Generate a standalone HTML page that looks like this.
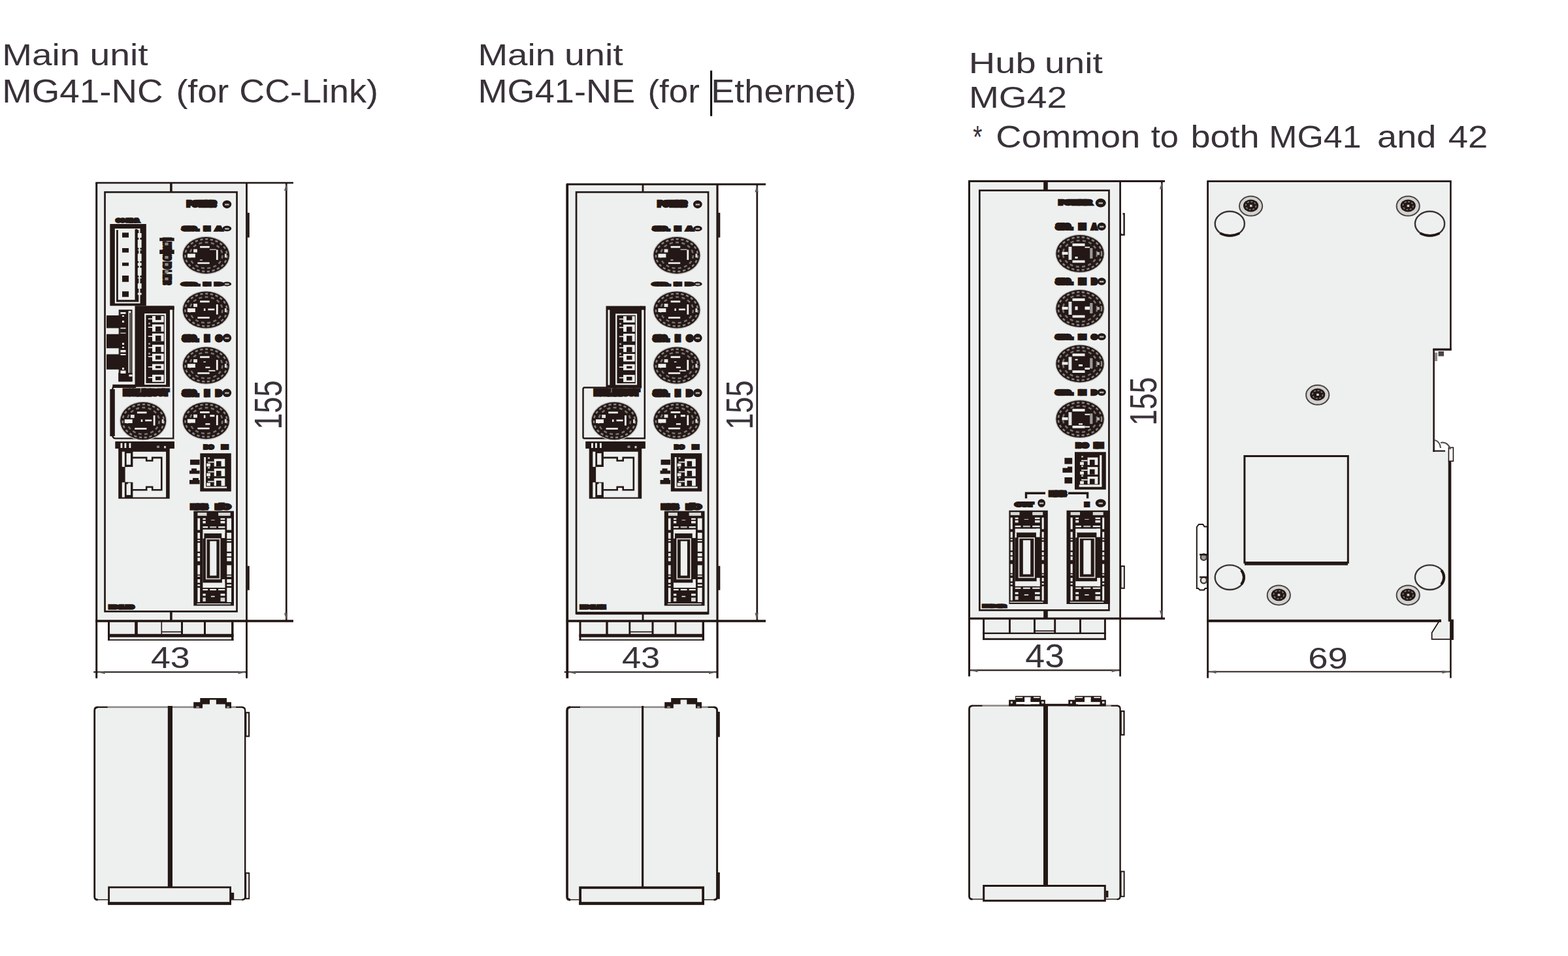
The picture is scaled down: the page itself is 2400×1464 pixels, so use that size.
<!DOCTYPE html>
<html lang="en">
<head>
<meta charset="utf-8">
<title>MG41 / MG42 outline dimensions</title>
<style>
html,body{margin:0;padding:0;background:#fff;}
body{width:2400px;height:1464px;overflow:hidden;}
svg{display:block;}
.t{font-family:"Liberation Sans",sans-serif;font-size:100px;fill:#393239;}
.b{font-family:"Liberation Sans",sans-serif;font-weight:bold;fill:#231815;stroke:#231815;stroke-linejoin:miter;stroke-miterlimit:2;}
</style>
</head>
<body>
<svg width="2400" height="1464" viewBox="0 0 2400 1464" shape-rendering="geometricPrecision">
<rect width="2400" height="1464" fill="#ffffff"/>
<g id="titles">
<text class="t" transform="matrix(0.5506 0 0 0.4543 3.20 99.90)"><tspan x="0.0" textLength="216.1" lengthAdjust="spacingAndGlyphs">Main</tspan> <tspan x="244.0" textLength="161.8" lengthAdjust="spacingAndGlyphs">unit</tspan></text>
<text class="t" transform="matrix(0.5428 0 0 0.4957 3.26 156.90)"><tspan x="-0.1" textLength="453.8" lengthAdjust="spacingAndGlyphs">MG41-NC</tspan> <tspan x="490.3" textLength="148.9" lengthAdjust="spacingAndGlyphs">(for</tspan> <tspan x="668.7" textLength="391.9" lengthAdjust="spacingAndGlyphs">CC-Link)</tspan></text>
<text class="t" transform="matrix(0.5517 0 0 0.4543 731.39 99.90)"><tspan x="0.1" textLength="215.3" lengthAdjust="spacingAndGlyphs">Main</tspan> <tspan x="240.6" textLength="162.6" lengthAdjust="spacingAndGlyphs">unit</tspan></text>
<text class="t" transform="matrix(0.5395 0 0 0.4957 731.48 156.90)"><tspan x="-0.0" textLength="446.3" lengthAdjust="spacingAndGlyphs">MG41-NE</tspan> <tspan x="481.8" textLength="147.2" lengthAdjust="spacingAndGlyphs">(for</tspan> <tspan x="661.3" textLength="412.3" lengthAdjust="spacingAndGlyphs">Ethernet)</tspan></text>
<text class="t" transform="matrix(0.5560 0 0 0.4371 1482.85 111.80)"><tspan x="-0.1" textLength="184.9" lengthAdjust="spacingAndGlyphs">Hub</tspan> <tspan x="208.8" textLength="159.9" lengthAdjust="spacingAndGlyphs">unit</tspan></text>
<text class="t" transform="matrix(0.5517 0 0 0.4714 1482.89 165.20)"><tspan x="0.0" textLength="272.3" lengthAdjust="spacingAndGlyphs">MG42</tspan></text>
<text class="t" transform="matrix(0.5304 0 0 0.4771 1488.94 225.80)"><tspan x="0.6" textLength="26.6" lengthAdjust="spacingAndGlyphs">*</tspan> <tspan x="66.6" textLength="416.9" lengthAdjust="spacingAndGlyphs">Common</tspan> <tspan x="514.4" textLength="79.6" lengthAdjust="spacingAndGlyphs">to</tspan> <tspan x="628.7" textLength="198.3" lengthAdjust="spacingAndGlyphs">both</tspan> <tspan x="854.6" textLength="266.4" lengthAdjust="spacingAndGlyphs">MG41</tspan> <tspan x="1167.4" textLength="170.0" lengthAdjust="spacingAndGlyphs">and</tspan> <tspan x="1372.0" textLength="114.3" lengthAdjust="spacingAndGlyphs">42</tspan></text>
<rect x="1087.1" y="108.1" width="3" height="69.7" fill="#000"/>
</g>
<g id="front-nc">
<rect x="147.7" y="280" width="229.8" height="671" fill="#eef0ef"/>
<rect x="165" y="951" width="192.5" height="29.5" fill="#eef0ef"/>
<rect x="146.3" y="278.7" width="302.7" height="2.6" fill="#231815"/>
<rect x="146.3" y="949.2" width="302.7" height="3.6" fill="#231815"/>
<rect x="146.2" y="280" width="3" height="758.7" fill="#231815"/>
<rect x="376.1" y="280" width="2.8" height="758.7" fill="#231815"/>
<rect x="436.95" y="280" width="2.7" height="671" fill="#231815"/>
<path d="M438.3 281.5 l-3.4 10.5 h5.2z" fill="#5d5957"/>
<path d="M438.3 949.2 l-3.4 -10.5 h5.2z" fill="#5d5957"/>
<rect x="160.55" y="294.25" width="202" height="642.1" fill="none" stroke="#231815" stroke-width="2.7"/>
<rect x="260.1" y="280" width="3.6" height="14.2" fill="#231815"/>
<rect x="260.1" y="936.5" width="3.6" height="14.5" fill="#231815"/>
<rect x="378.7" y="325.8" width="3.1" height="37.9" fill="#231815"/>
<rect x="378.7" y="866.7" width="3.1" height="37" fill="#231815"/>
<rect x="165" y="951" width="3" height="21" fill="#231815"/>
<rect x="206.2" y="951" width="4.6" height="21" fill="#231815"/>
<rect x="246.5" y="951" width="1.6" height="21" fill="#231815"/>
<rect x="277" y="951" width="3" height="21" fill="#231815"/>
<rect x="312" y="951" width="3" height="21" fill="#231815"/>
<rect x="354.1" y="951" width="3.4" height="21" fill="#231815"/>
<rect x="165" y="970.8" width="192.5" height="5" fill="#231815"/>
<rect x="165" y="979.1" width="192.5" height="1.8" fill="#231815"/>
<rect x="165" y="972" width="3" height="9" fill="#231815"/>
<rect x="354.1" y="972" width="3.4" height="9" fill="#231815"/>
<rect x="247.3" y="966.75" width="31.2" height="1.7" fill="#231815"/>
<rect x="143.2" y="1028.2" width="234.3" height="2" fill="#231815"/>
<path d="M149.2 1029.2 l11.5 -1.6 v4.6z" fill="#5d5957"/>
<path d="M376 1029.2 l-11.5 -1.6 v4.6z" fill="#5d5957"/>
<text class="t" transform="matrix(0.5381 0 0 0.4580 230.92 1023.30)">43</text>
<text class="t" transform="matrix(0 -0.4516 0.5899 0 431.00 657.81)">155</text>
<text class="b" font-size="10.57" stroke-width="4.4" textLength="44.8" lengthAdjust="spacingAndGlyphs" x="286.4" y="315.8">POWER</text>
<ellipse cx="347.35" cy="312.95" rx="6.85" ry="6.25" fill="#231815"/>
<rect x="344.15" y="311.95" width="6.4" height="2.6" fill="#b0adac"/>
<text class="b" font-size="8.14" stroke-width="3.4" y="352.6"><tspan x="278.9" textLength="25.4" lengthAdjust="spacingAndGlyphs">SIG.</tspan> <tspan x="312.1" textLength="9.6" lengthAdjust="spacingAndGlyphs">IN</tspan> <tspan x="329.9" textLength="9.9" lengthAdjust="spacingAndGlyphs">A</tspan></text>
<ellipse cx="347.4" cy="350.05" rx="6.8" ry="4.25" fill="#231815"/>
<rect x="344.2" y="349.05" width="6.4" height="2.6" fill="#b0adac"/>
<ellipse cx="315.4" cy="391" rx="36.7" ry="29.2" fill="#b9b7b6"/>
<ellipse cx="315.4" cy="391" rx="35.5" ry="28" fill="#231815"/>
<ellipse cx="315.4" cy="391" rx="32" ry="24.8" fill="none" stroke="#858180" stroke-width="2.6" stroke-dasharray="4.2 3.6"/>
<ellipse cx="315.4" cy="391" rx="25" ry="19.8" fill="none" stroke="#767271" stroke-width="2.6" stroke-dasharray="5 4.4"/>
<rect x="294.9" y="378.5" width="36" height="23" fill="#231815"/>
<rect x="306.1" y="376.8" width="14.6" height="2.8" fill="#f4f4f4"/>
<rect x="286.9" y="388.6" width="12" height="5.8" fill="#f0f0f0"/>
<rect x="330.9" y="382.5" width="2.8" height="15.5" fill="#f0f0f0"/>
<rect x="302.4" y="401.6" width="18.3" height="2.6" fill="#f0f0f0"/>
<rect x="296.1" y="381.5" width="5.8" height="5" fill="#e6e6e6"/>
<rect x="343.9" y="388.6" width="2.8" height="5.8" fill="#dcdcdc"/>
<rect x="321" y="381.6" width="9.9" height="1.1" fill="#f4f4f4"/>
<rect x="305.9" y="397.6" width="4" height="1.2" fill="#f4f4f4"/>
<text class="b" font-size="6" stroke-width="3.4" y="436.7"><tspan x="278.9" textLength="25.4" lengthAdjust="spacingAndGlyphs">SIG.</tspan> <tspan x="312.1" textLength="9.6" lengthAdjust="spacingAndGlyphs">IN</tspan> <tspan x="329.9" textLength="9.9" lengthAdjust="spacingAndGlyphs">B</tspan></text>
<ellipse cx="347.4" cy="434.9" rx="6.8" ry="3.5" fill="#231815"/>
<rect x="344.2" y="433.9" width="6.4" height="2.6" fill="#b0adac"/>
<ellipse cx="315.4" cy="474.6" rx="36.7" ry="29.2" fill="#b9b7b6"/>
<ellipse cx="315.4" cy="474.6" rx="35.5" ry="28" fill="#231815"/>
<ellipse cx="315.4" cy="474.6" rx="32" ry="24.8" fill="none" stroke="#858180" stroke-width="2.6" stroke-dasharray="4.2 3.6"/>
<ellipse cx="315.4" cy="474.6" rx="25" ry="19.8" fill="none" stroke="#767271" stroke-width="2.6" stroke-dasharray="5 4.4"/>
<rect x="294.9" y="462.1" width="36" height="23" fill="#231815"/>
<rect x="306.1" y="460.4" width="14.6" height="2.8" fill="#f4f4f4"/>
<rect x="286.9" y="472.2" width="12" height="5.8" fill="#f0f0f0"/>
<rect x="330.9" y="466.1" width="2.8" height="15.5" fill="#f0f0f0"/>
<rect x="302.4" y="485.2" width="18.3" height="2.6" fill="#f0f0f0"/>
<rect x="296.1" y="465.1" width="5.8" height="5" fill="#e6e6e6"/>
<rect x="343.9" y="472.2" width="2.8" height="5.8" fill="#dcdcdc"/>
<rect x="311.9" y="472.4" width="2.5" height="3.6" fill="#f4f4f4"/>
<rect x="318.4" y="472.6" width="10" height="2.6" fill="#f4f4f4"/>
<text class="b" font-size="11.71" stroke-width="5" y="521.7"><tspan x="279.7" textLength="23.8" lengthAdjust="spacingAndGlyphs">SIG.</tspan> <tspan x="312.9" textLength="8" lengthAdjust="spacingAndGlyphs">IN</tspan> <tspan x="330.7" textLength="8.3" lengthAdjust="spacingAndGlyphs">C</tspan></text>
<ellipse cx="347.4" cy="517.6" rx="6.8" ry="6.6" fill="#231815"/>
<rect x="344.2" y="516.6" width="6.4" height="2.6" fill="#b0adac"/>
<ellipse cx="315.4" cy="559.6" rx="36.7" ry="29.2" fill="#b9b7b6"/>
<ellipse cx="315.4" cy="559.6" rx="35.5" ry="28" fill="#231815"/>
<ellipse cx="315.4" cy="559.6" rx="32" ry="24.8" fill="none" stroke="#858180" stroke-width="2.6" stroke-dasharray="4.2 3.6"/>
<ellipse cx="315.4" cy="559.6" rx="25" ry="19.8" fill="none" stroke="#767271" stroke-width="2.6" stroke-dasharray="5 4.4"/>
<rect x="294.9" y="547.1" width="36" height="23" fill="#231815"/>
<rect x="306.1" y="545.4" width="14.6" height="2.8" fill="#f4f4f4"/>
<rect x="286.9" y="557.2" width="12" height="5.8" fill="#f0f0f0"/>
<rect x="330.9" y="551.1" width="2.8" height="15.5" fill="#f0f0f0"/>
<rect x="302.4" y="570.2" width="18.3" height="2.6" fill="#f0f0f0"/>
<rect x="296.1" y="550.1" width="5.8" height="5" fill="#e6e6e6"/>
<rect x="343.9" y="557.2" width="2.8" height="5.8" fill="#dcdcdc"/>
<rect x="311.4" y="553.6" width="3.5" height="1.4" fill="#f4f4f4"/>
<rect x="314.4" y="561.6" width="7" height="2.2" fill="#f4f4f4"/>
<rect x="319.4" y="566.8" width="10" height="1.8" fill="#f4f4f4"/>
<text class="b" font-size="11.14" stroke-width="5" y="605.5"><tspan x="279.7" textLength="23.8" lengthAdjust="spacingAndGlyphs">SIG.</tspan> <tspan x="312.9" textLength="8" lengthAdjust="spacingAndGlyphs">IN</tspan> <tspan x="330.7" textLength="8.3" lengthAdjust="spacingAndGlyphs">D</tspan></text>
<ellipse cx="347.4" cy="601.6" rx="6.8" ry="6.4" fill="#231815"/>
<rect x="344.2" y="600.6" width="6.4" height="2.6" fill="#b0adac"/>
<ellipse cx="315.4" cy="644.2" rx="36.7" ry="29.2" fill="#b9b7b6"/>
<ellipse cx="315.4" cy="644.2" rx="35.5" ry="28" fill="#231815"/>
<ellipse cx="315.4" cy="644.2" rx="32" ry="24.8" fill="none" stroke="#858180" stroke-width="2.6" stroke-dasharray="4.2 3.6"/>
<ellipse cx="315.4" cy="644.2" rx="25" ry="19.8" fill="none" stroke="#767271" stroke-width="2.6" stroke-dasharray="5 4.4"/>
<rect x="294.9" y="631.7" width="36" height="23" fill="#231815"/>
<rect x="306.1" y="630" width="14.6" height="2.8" fill="#f4f4f4"/>
<rect x="286.9" y="641.8" width="12" height="5.8" fill="#f0f0f0"/>
<rect x="330.9" y="635.7" width="2.8" height="15.5" fill="#f0f0f0"/>
<rect x="302.4" y="654.8" width="18.3" height="2.6" fill="#f0f0f0"/>
<rect x="296.1" y="634.7" width="5.8" height="5" fill="#e6e6e6"/>
<rect x="343.9" y="641.8" width="2.8" height="5.8" fill="#dcdcdc"/>
<rect x="311.9" y="635.7" width="2.5" height="4.5" fill="#f4f4f4"/>
<rect x="314.4" y="648.2" width="7" height="2.4" fill="#f4f4f4"/>
<rect x="321.4" y="635.2" width="7" height="3" fill="#f4f4f4"/>
<text class="b" font-size="14.29" stroke-width="4.6" textLength="71.7" lengthAdjust="spacingAndGlyphs" transform="translate(250.9 364.3) rotate(90)" x="0" y="0">L RUN SD RD L ERR</text>
<rect x="244.2" y="364.2" width="22.5" height="5" fill="#231815"/>
<rect x="244.2" y="382.5" width="22.5" height="6.5" fill="#231815"/>
<rect x="252.4" y="371.5" width="5.2" height="4.2" fill="#8f8b8a"/>
<rect x="252.4" y="392" width="5.2" height="4.2" fill="#8f8b8a"/>
<rect x="252.4" y="403" width="5.2" height="4.2" fill="#8f8b8a"/>
<rect x="252.4" y="414" width="5.2" height="4.2" fill="#8f8b8a"/>
<rect x="252.4" y="425" width="5.2" height="4.2" fill="#8f8b8a"/>
<path d="M265.3 470 V671.4 H176.3 Q171.9 671.4 171.9 664 V598 Q171.9 591 178.3 591 H210" fill="none" stroke="#231815" stroke-width="2.4"/>
<rect x="168.3" y="596" width="7.5" height="72" fill="#231815"/>
<rect x="172.3" y="588.8" width="35.7" height="5.2" fill="#231815"/>
<text class="b" font-size="10.86" stroke-width="5.2" textLength="67.8" lengthAdjust="spacingAndGlyphs" x="189.6" y="605.4">EXT. IN/OUT</text>
<ellipse cx="219.2" cy="644.6" rx="36.2" ry="29.8" fill="#b9b7b6"/>
<ellipse cx="219.2" cy="644.6" rx="35" ry="28.6" fill="#231815"/>
<ellipse cx="219.2" cy="644.6" rx="31.5" ry="25.4" fill="none" stroke="#858180" stroke-width="2.6" stroke-dasharray="4.2 3.6"/>
<ellipse cx="219.2" cy="644.6" rx="24.5" ry="20.4" fill="none" stroke="#767271" stroke-width="2.6" stroke-dasharray="5 4.4"/>
<rect x="198.7" y="632.1" width="36" height="23" fill="#231815"/>
<rect x="209.9" y="630.4" width="14.6" height="2.8" fill="#f4f4f4"/>
<rect x="190.7" y="642.2" width="12" height="5.8" fill="#f0f0f0"/>
<rect x="234.7" y="636.1" width="2.8" height="15.5" fill="#f0f0f0"/>
<rect x="206.2" y="655.2" width="18.3" height="2.6" fill="#f0f0f0"/>
<rect x="199.9" y="635.1" width="5.8" height="5" fill="#e6e6e6"/>
<rect x="247.7" y="642.2" width="2.8" height="5.8" fill="#dcdcdc"/>
<rect x="215.7" y="642.4" width="2.5" height="3.6" fill="#f4f4f4"/>
<rect x="222.2" y="642.6" width="10" height="2.6" fill="#f4f4f4"/>
<rect x="206.5" y="468.3" width="53.5" height="124.3" fill="#231815"/>
<rect x="222.25" y="481.25" width="30.7" height="106.7" fill="none" stroke="#eef0ef" stroke-width="2.3"/>
<rect x="233" y="483.9" width="17.7" height="9.6" fill="#eef0ef"/>
<rect x="226.8" y="487.5" width="6.2" height="1.6" fill="#eef0ef"/>
<rect x="238" y="483.9" width="8.5" height="6.2" fill="#231815"/>
<rect x="233" y="496.8" width="17.7" height="11" fill="#eef0ef"/>
<rect x="226.8" y="500.4" width="6.2" height="1.6" fill="#eef0ef"/>
<rect x="238" y="500" width="8.5" height="7.8" fill="#231815"/>
<rect x="233" y="510.7" width="17.7" height="11.9" fill="#eef0ef"/>
<rect x="226.8" y="514.3" width="6.2" height="1.6" fill="#eef0ef"/>
<rect x="238" y="513.9" width="8.5" height="8.7" fill="#231815"/>
<rect x="233" y="527.9" width="17.7" height="11" fill="#eef0ef"/>
<rect x="226.8" y="531.5" width="6.2" height="1.6" fill="#eef0ef"/>
<rect x="238" y="531.1" width="8.5" height="7.8" fill="#231815"/>
<rect x="233" y="541.7" width="17.7" height="11.5" fill="#eef0ef"/>
<rect x="226.8" y="545.3" width="6.2" height="1.6" fill="#eef0ef"/>
<rect x="238" y="544.5" width="8.5" height="6.1" fill="#231815"/>
<rect x="233" y="557.5" width="17.7" height="9.1" fill="#eef0ef"/>
<rect x="226.8" y="561.1" width="6.2" height="1.6" fill="#eef0ef"/>
<rect x="238" y="560.3" width="8.5" height="3.7" fill="#231815"/>
<rect x="233" y="573.8" width="17.7" height="11" fill="#eef0ef"/>
<rect x="226.8" y="577.4" width="6.2" height="1.6" fill="#eef0ef"/>
<rect x="238" y="576.6" width="8.5" height="5.6" fill="#231815"/>
<rect x="227.1" y="494.3" width="2.8" height="2.4" fill="#a9a6a5"/>
<rect x="227.1" y="525.3" width="2.8" height="2.4" fill="#a9a6a5"/>
<rect x="227.1" y="540.3" width="2.8" height="2.4" fill="#a9a6a5"/>
<rect x="259" y="468.3" width="7.7" height="6.1" fill="#231815"/>
<text class="b" font-size="6.29" stroke-width="3.4" textLength="34.5" lengthAdjust="spacingAndGlyphs" x="178" y="339.7">CC-Link</text>
<rect x="168.3" y="343" width="55.5" height="125.3" fill="#231815"/>
<rect x="176.9" y="351.1" width="36.5" height="112.4" fill="none" stroke="#eef0ef" stroke-width="2.2"/>
<rect x="180.8" y="350.8" width="25.9" height="108.4" fill="#eef0ef"/>
<rect x="187" y="356.3" width="10" height="7.4" fill="#231815"/>
<rect x="187" y="380" width="10" height="6.7" fill="#231815"/>
<rect x="187" y="402.2" width="10" height="5" fill="#231815"/>
<rect x="187" y="422" width="10" height="9.7" fill="#231815"/>
<rect x="187" y="446.2" width="10" height="8.5" fill="#231815"/>
<rect x="206.7" y="350.8" width="3.8" height="108.4" fill="#231815"/>
<rect x="210.8" y="357" width="5.8" height="7" fill="#eef0ef"/>
<rect x="210.8" y="367" width="5.8" height="12.5" fill="#eef0ef"/>
<rect x="210.8" y="382.2" width="5.8" height="1.2" fill="#eef0ef"/>
<rect x="210.8" y="388.5" width="5.8" height="11.5" fill="#eef0ef"/>
<rect x="210.8" y="402.5" width="5.8" height="4.5" fill="#eef0ef"/>
<rect x="210.8" y="410" width="5.8" height="12" fill="#eef0ef"/>
<rect x="210.8" y="425" width="5.8" height="1.2" fill="#eef0ef"/>
<rect x="210.8" y="434" width="5.8" height="8" fill="#eef0ef"/>
<rect x="210.8" y="448.5" width="5.8" height="3" fill="#eef0ef"/>
<rect x="182.7" y="475.2" width="18.8" height="108" fill="none" stroke="#231815" stroke-width="2"/>
<rect x="183.5" y="476" width="13" height="106" fill="#231815"/>
<rect x="198.2" y="479" width="1.6" height="99" fill="#231815"/>
<rect x="163" y="483" width="21" height="19.5" fill="#231815"/>
<rect x="163" y="511.7" width="21" height="21.6" fill="#231815"/>
<rect x="163" y="542.5" width="21" height="23.3" fill="#231815"/>
<rect x="181.2" y="571" width="21.4" height="13.4" fill="#231815"/>
<rect x="197.4" y="573.6" width="5.2" height="3" fill="#eef0ef"/>
<rect x="184.5" y="478" width="8" height="2.8" fill="#eef0ef"/>
<rect x="187" y="483" width="3" height="2" fill="#eef0ef"/>
<rect x="187" y="491" width="3" height="3" fill="#eef0ef"/>
<rect x="184.5" y="501.8" width="8" height="1.6" fill="#eef0ef"/>
<rect x="184.5" y="509.5" width="8" height="1.2" fill="#eef0ef"/>
<rect x="187" y="525" width="3" height="3" fill="#eef0ef"/>
<rect x="187" y="531" width="3" height="2" fill="#eef0ef"/>
<rect x="184.5" y="536" width="8" height="3.5" fill="#eef0ef"/>
<rect x="184.5" y="542" width="8" height="2" fill="#eef0ef"/>
<rect x="187" y="563" width="3" height="3" fill="#eef0ef"/>
<rect x="184.5" y="567.5" width="8" height="4.5" fill="#eef0ef"/>
<text class="b" font-size="9.43" stroke-width="4" textLength="58" lengthAdjust="spacingAndGlyphs" x="202" y="684.8">Ethernet</text>
<rect x="176.3" y="676" width="90.7" height="11" fill="#231815"/>
<rect x="184.5" y="678.5" width="2.8" height="7.5" fill="#eef0ef"/>
<rect x="190.5" y="678.5" width="2.8" height="7.5" fill="#eef0ef"/>
<rect x="197.5" y="678.5" width="2.8" height="7.5" fill="#eef0ef"/>
<rect x="251" y="683" width="3" height="3.5" fill="#d0cfcf"/>
<rect x="240" y="682.5" width="4" height="3.5" fill="#8f8c8b"/>
<rect x="181.2" y="686.7" width="78.5" height="77" fill="#231815"/>
<path d="M203.4 691.7 H254.1 V761.5 H203.4 V738.5 H191.6 V715.1 H203.4z" fill="#eef0ef"/>
<rect x="186.8" y="691.7" width="4" height="23.2" fill="#eef0ef"/>
<rect x="186.8" y="738.7" width="4" height="22.8" fill="#eef0ef"/>
<rect x="193.6" y="694.1" width="6.4" height="17.6" fill="#eef0ef"/>
<rect x="193.6" y="739.7" width="6.4" height="18.4" fill="#eef0ef"/>
<rect x="191.6" y="712.5" width="4.2" height="2.6" fill="#231815"/>
<rect x="191.6" y="738.5" width="4.2" height="2.8" fill="#231815"/>
<path d="M203 700.9 H224.2 V705.5 H233.2 V700.9 H247.3 V750.3 H233.2 V745.7 H224.2 V750.3 H203" fill="none" stroke="#231815" stroke-width="2.6"/>
<text class="b" font-size="8" stroke-width="4.2" textLength="13.9" lengthAdjust="spacingAndGlyphs" x="312.6" y="686.9">DO</text>
<text class="b" font-size="8" stroke-width="4.2" textLength="9.2" lengthAdjust="spacingAndGlyphs" x="339.5" y="686.9">IN</text>
<rect x="306.3" y="694.2" width="47.5" height="58.4" fill="#231815"/>
<rect x="312.24" y="700.04" width="2.85" height="46.72" fill="#eef0ef"/>
<rect x="312.24" y="745.3" width="34.91" height="2.34" fill="#eef0ef"/>
<rect x="318.18" y="706.76" width="9.5" height="1.75" fill="#eef0ef"/>
<rect x="327.68" y="702.67" width="16.62" height="11.68" fill="#eef0ef"/>
<rect x="331" y="706.17" width="7.6" height="8.18" fill="#231815"/>
<rect x="318.18" y="700.33" width="2.85" height="2.34" fill="#cfcdcd"/>
<rect x="316.28" y="709.68" width="5.7" height="4.67" fill="#eef0ef"/>
<rect x="318.18" y="721.65" width="9.5" height="1.75" fill="#eef0ef"/>
<rect x="327.68" y="717.56" width="16.62" height="11.68" fill="#eef0ef"/>
<rect x="331" y="721.06" width="7.6" height="8.18" fill="#231815"/>
<rect x="318.18" y="715.22" width="2.85" height="2.34" fill="#cfcdcd"/>
<rect x="316.28" y="724.57" width="5.7" height="4.67" fill="#eef0ef"/>
<rect x="318.18" y="736.54" width="9.5" height="1.75" fill="#eef0ef"/>
<rect x="327.68" y="732.45" width="16.62" height="11.68" fill="#eef0ef"/>
<rect x="331" y="735.96" width="7.6" height="8.18" fill="#231815"/>
<rect x="318.18" y="730.12" width="2.85" height="2.34" fill="#cfcdcd"/>
<rect x="316.28" y="739.46" width="5.7" height="4.67" fill="#eef0ef"/>
<rect x="291" y="703.8" width="14.6" height="8" fill="#231815"/>
<rect x="290" y="720.6" width="15.6" height="5" fill="#231815"/>
<rect x="293" y="717.4" width="8" height="3.6" fill="#231815"/>
<rect x="290" y="735" width="15.6" height="6.4" fill="#231815"/>
<rect x="295" y="732" width="9" height="3.2" fill="#231815"/>
<text class="b" font-size="9.71" stroke-width="5" textLength="26" lengthAdjust="spacingAndGlyphs" x="292.5" y="778.5">LINK</text>
<text class="b" font-size="9.71" stroke-width="5" textLength="20.8" lengthAdjust="spacingAndGlyphs" x="330.9" y="778.5">I/O</text>
<rect x="296.3" y="782.6" width="61.7" height="145" fill="#231815"/>
<rect x="302.4" y="785.07" width="14.1" height="4.78" fill="#d9d8d8"/>
<rect x="334.13" y="785.07" width="18.47" height="4.78" fill="#d9d8d8"/>
<rect x="302.4" y="793.62" width="3.7" height="17.98" fill="#eef0ef"/>
<rect x="347.3" y="793.62" width="6.8" height="17.98" fill="#eef0ef"/>
<rect x="302.4" y="815.81" width="3.7" height="9.13" fill="#eef0ef"/>
<rect x="347.3" y="815.81" width="6.8" height="9.13" fill="#eef0ef"/>
<rect x="302.4" y="826.83" width="3.7" height="1.88" fill="#eef0ef"/>
<rect x="347.3" y="826.83" width="6.8" height="1.88" fill="#eef0ef"/>
<rect x="302.4" y="831.18" width="3.7" height="13.49" fill="#eef0ef"/>
<rect x="347.3" y="831.18" width="6.8" height="13.49" fill="#eef0ef"/>
<rect x="302.4" y="847.12" width="3.7" height="4.93" fill="#eef0ef"/>
<rect x="347.3" y="847.12" width="6.8" height="4.93" fill="#eef0ef"/>
<rect x="302.4" y="853.94" width="3.7" height="5.51" fill="#eef0ef"/>
<rect x="347.3" y="853.94" width="6.8" height="5.51" fill="#eef0ef"/>
<rect x="302.4" y="865.54" width="3.7" height="14.21" fill="#eef0ef"/>
<rect x="347.3" y="865.54" width="6.8" height="14.21" fill="#eef0ef"/>
<rect x="302.4" y="881.49" width="3.7" height="1.88" fill="#eef0ef"/>
<rect x="347.3" y="881.49" width="6.8" height="1.88" fill="#eef0ef"/>
<rect x="302.4" y="887" width="3.7" height="5.51" fill="#eef0ef"/>
<rect x="347.3" y="887" width="6.8" height="5.51" fill="#eef0ef"/>
<rect x="302.4" y="894.98" width="3.7" height="2.47" fill="#eef0ef"/>
<rect x="347.3" y="894.98" width="6.8" height="2.47" fill="#eef0ef"/>
<rect x="302.4" y="900.05" width="3.7" height="22.04" fill="#eef0ef"/>
<rect x="347.3" y="900.05" width="6.8" height="22.04" fill="#eef0ef"/>
<rect x="310.4" y="810.88" width="33.9" height="89.18" fill="#eef0ef"/>
<rect x="310.4" y="816.82" width="36.1" height="75.54" fill="#231815"/>
<rect x="310.4" y="816.82" width="2.03" height="7.83" fill="#eef0ef"/>
<rect x="339.22" y="810.88" width="5.08" height="13.05" fill="#eef0ef"/>
<rect x="339.89" y="887" width="4.41" height="13.05" fill="#eef0ef"/>
<rect x="315.71" y="825.26" width="20.91" height="61.13" fill="none" stroke="#d4d3d3" stroke-width="1.8"/>
<rect x="321.25" y="828.71" width="10.17" height="52.78" fill="#eef0ef"/>
<rect x="310.4" y="793.62" width="4.41" height="2.32" fill="#eef0ef"/>
<rect x="310.4" y="797.83" width="4.41" height="3.62" fill="#eef0ef"/>
<rect x="337.52" y="793.62" width="6.78" height="2.32" fill="#eef0ef"/>
<rect x="337.52" y="797.83" width="6.78" height="3.62" fill="#eef0ef"/>
<rect x="310.4" y="806.09" width="7.8" height="2.32" fill="#eef0ef"/>
<rect x="321.25" y="806.09" width="9.83" height="2.32" fill="#bdbbbb"/>
<rect x="334.13" y="806.09" width="10.17" height="2.32" fill="#eef0ef"/>
<rect x="322.94" y="795.94" width="5.76" height="0.87" fill="#eef0ef"/>
<rect x="310.4" y="901.94" width="7.8" height="2.17" fill="#eef0ef"/>
<rect x="321.25" y="901.94" width="9.83" height="2.17" fill="#eef0ef"/>
<rect x="334.13" y="901.94" width="10.17" height="2.17" fill="#eef0ef"/>
<rect x="310.4" y="909.19" width="4.41" height="3.19" fill="#eef0ef"/>
<rect x="337.52" y="909.19" width="6.78" height="3.19" fill="#eef0ef"/>
<rect x="310.4" y="915.28" width="4.41" height="5.8" fill="#d6d5d5"/>
<rect x="337.52" y="915.28" width="6.78" height="5.8" fill="#d6d5d5"/>
<rect x="322.94" y="912.66" width="5.76" height="1.6" fill="#eef0ef"/>
<rect x="301.4" y="924.12" width="51.7" height="1.3" fill="#eef0ef"/>
<text class="b" font-size="6.29" stroke-width="3.4" textLength="37.8" lengthAdjust="spacingAndGlyphs" x="167.1" y="932.3">MG41-NC</text>
</g>
<g id="front-ne">
<rect x="868.2" y="282.2" width="229.8" height="668.8" fill="#eef0ef"/>
<rect x="886.5" y="951" width="191.5" height="29.5" fill="#eef0ef"/>
<rect x="866.8" y="280.7" width="305.2" height="3" fill="#231815"/>
<rect x="866.8" y="949.2" width="305.2" height="3.6" fill="#231815"/>
<rect x="866.3" y="282.2" width="3.8" height="756.5" fill="#231815"/>
<rect x="1096.4" y="282.2" width="3.2" height="756.5" fill="#231815"/>
<rect x="1157.45" y="282.2" width="2.7" height="668.8" fill="#231815"/>
<path d="M1158.8 283.7 l-3.4 10.5 h5.2z" fill="#5d5957"/>
<path d="M1158.8 949.2 l-3.4 -10.5 h5.2z" fill="#5d5957"/>
<rect x="882.05" y="294.25" width="202" height="645.3" fill="none" stroke="#231815" stroke-width="2.7"/>
<rect x="882.1" y="936.8" width="201.9" height="4.4" fill="#231815"/>
<rect x="982.6" y="282.2" width="2.8" height="12" fill="#231815"/>
<rect x="982.6" y="938.7" width="2.8" height="12.3" fill="#231815"/>
<rect x="1099.2" y="325.8" width="3.1" height="37.9" fill="#231815"/>
<rect x="1099.2" y="866.7" width="3.1" height="37" fill="#231815"/>
<rect x="886.5" y="951" width="3" height="21" fill="#231815"/>
<rect x="927.3" y="951" width="3.4" height="21" fill="#231815"/>
<rect x="962.4" y="951" width="2.8" height="21" fill="#231815"/>
<rect x="997.5" y="951" width="3" height="21" fill="#231815"/>
<rect x="1032.5" y="951" width="3" height="21" fill="#231815"/>
<rect x="1074.6" y="951" width="3.4" height="21" fill="#231815"/>
<rect x="886.5" y="970.8" width="191.5" height="5" fill="#231815"/>
<rect x="886.5" y="979.1" width="191.5" height="1.8" fill="#231815"/>
<rect x="886.5" y="972" width="3" height="9" fill="#231815"/>
<rect x="1074.6" y="972" width="3.4" height="9" fill="#231815"/>
<rect x="963.8" y="966.75" width="35.2" height="1.7" fill="#231815"/>
<rect x="863.7" y="1028.2" width="234.3" height="2" fill="#231815"/>
<path d="M869.7 1029.2 l11.5 -1.6 v4.6z" fill="#5d5957"/>
<path d="M1096.5 1029.2 l-11.5 -1.6 v4.6z" fill="#5d5957"/>
<text class="t" transform="matrix(0.5238 0 0 0.4580 951.95 1023.30)">43</text>
<text class="t" transform="matrix(0 -0.4516 0.5725 0 1151.50 657.81)">155</text>
<text class="b" font-size="10.57" stroke-width="4.4" textLength="44.8" lengthAdjust="spacingAndGlyphs" x="1006.9" y="315.8">POWER</text>
<ellipse cx="1067.85" cy="312.95" rx="6.85" ry="6.25" fill="#231815"/>
<rect x="1064.65" y="311.95" width="6.4" height="2.6" fill="#b0adac"/>
<text class="b" font-size="8.14" stroke-width="3.4" y="352.6"><tspan x="999.4" textLength="25.4" lengthAdjust="spacingAndGlyphs">SIG.</tspan> <tspan x="1032.6" textLength="9.6" lengthAdjust="spacingAndGlyphs">IN</tspan> <tspan x="1050.4" textLength="9.9" lengthAdjust="spacingAndGlyphs">A</tspan></text>
<ellipse cx="1067.9" cy="350.05" rx="6.8" ry="4.25" fill="#231815"/>
<rect x="1064.7" y="349.05" width="6.4" height="2.6" fill="#b0adac"/>
<ellipse cx="1035.9" cy="391" rx="36.7" ry="29.2" fill="#b9b7b6"/>
<ellipse cx="1035.9" cy="391" rx="35.5" ry="28" fill="#231815"/>
<ellipse cx="1035.9" cy="391" rx="32" ry="24.8" fill="none" stroke="#858180" stroke-width="2.6" stroke-dasharray="4.2 3.6"/>
<ellipse cx="1035.9" cy="391" rx="25" ry="19.8" fill="none" stroke="#767271" stroke-width="2.6" stroke-dasharray="5 4.4"/>
<rect x="1015.4" y="378.5" width="36" height="23" fill="#231815"/>
<rect x="1026.6" y="376.8" width="14.6" height="2.8" fill="#f4f4f4"/>
<rect x="1007.4" y="388.6" width="12" height="5.8" fill="#f0f0f0"/>
<rect x="1051.4" y="382.5" width="2.8" height="15.5" fill="#f0f0f0"/>
<rect x="1022.9" y="401.6" width="18.3" height="2.6" fill="#f0f0f0"/>
<rect x="1016.6" y="381.5" width="5.8" height="5" fill="#e6e6e6"/>
<rect x="1064.4" y="388.6" width="2.8" height="5.8" fill="#dcdcdc"/>
<rect x="1041.5" y="381.6" width="9.9" height="1.1" fill="#f4f4f4"/>
<rect x="1026.4" y="397.6" width="4" height="1.2" fill="#f4f4f4"/>
<text class="b" font-size="6" stroke-width="3.4" y="436.7"><tspan x="999.4" textLength="25.4" lengthAdjust="spacingAndGlyphs">SIG.</tspan> <tspan x="1032.6" textLength="9.6" lengthAdjust="spacingAndGlyphs">IN</tspan> <tspan x="1050.4" textLength="9.9" lengthAdjust="spacingAndGlyphs">B</tspan></text>
<ellipse cx="1067.9" cy="434.9" rx="6.8" ry="3.5" fill="#231815"/>
<rect x="1064.7" y="433.9" width="6.4" height="2.6" fill="#b0adac"/>
<ellipse cx="1035.9" cy="474.6" rx="36.7" ry="29.2" fill="#b9b7b6"/>
<ellipse cx="1035.9" cy="474.6" rx="35.5" ry="28" fill="#231815"/>
<ellipse cx="1035.9" cy="474.6" rx="32" ry="24.8" fill="none" stroke="#858180" stroke-width="2.6" stroke-dasharray="4.2 3.6"/>
<ellipse cx="1035.9" cy="474.6" rx="25" ry="19.8" fill="none" stroke="#767271" stroke-width="2.6" stroke-dasharray="5 4.4"/>
<rect x="1015.4" y="462.1" width="36" height="23" fill="#231815"/>
<rect x="1026.6" y="460.4" width="14.6" height="2.8" fill="#f4f4f4"/>
<rect x="1007.4" y="472.2" width="12" height="5.8" fill="#f0f0f0"/>
<rect x="1051.4" y="466.1" width="2.8" height="15.5" fill="#f0f0f0"/>
<rect x="1022.9" y="485.2" width="18.3" height="2.6" fill="#f0f0f0"/>
<rect x="1016.6" y="465.1" width="5.8" height="5" fill="#e6e6e6"/>
<rect x="1064.4" y="472.2" width="2.8" height="5.8" fill="#dcdcdc"/>
<rect x="1032.4" y="472.4" width="2.5" height="3.6" fill="#f4f4f4"/>
<rect x="1038.9" y="472.6" width="10" height="2.6" fill="#f4f4f4"/>
<text class="b" font-size="11.71" stroke-width="5" y="521.7"><tspan x="1000.2" textLength="23.8" lengthAdjust="spacingAndGlyphs">SIG.</tspan> <tspan x="1033.4" textLength="8" lengthAdjust="spacingAndGlyphs">IN</tspan> <tspan x="1051.2" textLength="8.3" lengthAdjust="spacingAndGlyphs">C</tspan></text>
<ellipse cx="1067.9" cy="517.6" rx="6.8" ry="6.6" fill="#231815"/>
<rect x="1064.7" y="516.6" width="6.4" height="2.6" fill="#b0adac"/>
<ellipse cx="1035.9" cy="559.6" rx="36.7" ry="29.2" fill="#b9b7b6"/>
<ellipse cx="1035.9" cy="559.6" rx="35.5" ry="28" fill="#231815"/>
<ellipse cx="1035.9" cy="559.6" rx="32" ry="24.8" fill="none" stroke="#858180" stroke-width="2.6" stroke-dasharray="4.2 3.6"/>
<ellipse cx="1035.9" cy="559.6" rx="25" ry="19.8" fill="none" stroke="#767271" stroke-width="2.6" stroke-dasharray="5 4.4"/>
<rect x="1015.4" y="547.1" width="36" height="23" fill="#231815"/>
<rect x="1026.6" y="545.4" width="14.6" height="2.8" fill="#f4f4f4"/>
<rect x="1007.4" y="557.2" width="12" height="5.8" fill="#f0f0f0"/>
<rect x="1051.4" y="551.1" width="2.8" height="15.5" fill="#f0f0f0"/>
<rect x="1022.9" y="570.2" width="18.3" height="2.6" fill="#f0f0f0"/>
<rect x="1016.6" y="550.1" width="5.8" height="5" fill="#e6e6e6"/>
<rect x="1064.4" y="557.2" width="2.8" height="5.8" fill="#dcdcdc"/>
<rect x="1031.9" y="553.6" width="3.5" height="1.4" fill="#f4f4f4"/>
<rect x="1034.9" y="561.6" width="7" height="2.2" fill="#f4f4f4"/>
<rect x="1039.9" y="566.8" width="10" height="1.8" fill="#f4f4f4"/>
<text class="b" font-size="11.14" stroke-width="5" y="605.5"><tspan x="1000.2" textLength="23.8" lengthAdjust="spacingAndGlyphs">SIG.</tspan> <tspan x="1033.4" textLength="8" lengthAdjust="spacingAndGlyphs">IN</tspan> <tspan x="1051.2" textLength="8.3" lengthAdjust="spacingAndGlyphs">D</tspan></text>
<ellipse cx="1067.9" cy="601.6" rx="6.8" ry="6.4" fill="#231815"/>
<rect x="1064.7" y="600.6" width="6.4" height="2.6" fill="#b0adac"/>
<ellipse cx="1035.9" cy="644.2" rx="36.7" ry="29.2" fill="#b9b7b6"/>
<ellipse cx="1035.9" cy="644.2" rx="35.5" ry="28" fill="#231815"/>
<ellipse cx="1035.9" cy="644.2" rx="32" ry="24.8" fill="none" stroke="#858180" stroke-width="2.6" stroke-dasharray="4.2 3.6"/>
<ellipse cx="1035.9" cy="644.2" rx="25" ry="19.8" fill="none" stroke="#767271" stroke-width="2.6" stroke-dasharray="5 4.4"/>
<rect x="1015.4" y="631.7" width="36" height="23" fill="#231815"/>
<rect x="1026.6" y="630" width="14.6" height="2.8" fill="#f4f4f4"/>
<rect x="1007.4" y="641.8" width="12" height="5.8" fill="#f0f0f0"/>
<rect x="1051.4" y="635.7" width="2.8" height="15.5" fill="#f0f0f0"/>
<rect x="1022.9" y="654.8" width="18.3" height="2.6" fill="#f0f0f0"/>
<rect x="1016.6" y="634.7" width="5.8" height="5" fill="#e6e6e6"/>
<rect x="1064.4" y="641.8" width="2.8" height="5.8" fill="#dcdcdc"/>
<rect x="1032.4" y="635.7" width="2.5" height="4.5" fill="#f4f4f4"/>
<rect x="1034.9" y="648.2" width="7" height="2.4" fill="#f4f4f4"/>
<rect x="1041.9" y="635.2" width="7" height="3" fill="#f4f4f4"/>
<path d="M986.8 470 V671.3 H894.3 Q892.5 671.3 892.5 669 V596 Q892.5 593.6 894.7 593.6 H930" fill="none" stroke="#231815" stroke-width="2.5"/>
<text class="b" font-size="10.86" stroke-width="5.2" textLength="67.8" lengthAdjust="spacingAndGlyphs" x="910.1" y="605.4">EXT. IN/OUT</text>
<ellipse cx="940.5" cy="644.6" rx="36.2" ry="29.8" fill="#b9b7b6"/>
<ellipse cx="940.5" cy="644.6" rx="35" ry="28.6" fill="#231815"/>
<ellipse cx="940.5" cy="644.6" rx="31.5" ry="25.4" fill="none" stroke="#858180" stroke-width="2.6" stroke-dasharray="4.2 3.6"/>
<ellipse cx="940.5" cy="644.6" rx="24.5" ry="20.4" fill="none" stroke="#767271" stroke-width="2.6" stroke-dasharray="5 4.4"/>
<rect x="920" y="632.1" width="36" height="23" fill="#231815"/>
<rect x="931.2" y="630.4" width="14.6" height="2.8" fill="#f4f4f4"/>
<rect x="912" y="642.2" width="12" height="5.8" fill="#f0f0f0"/>
<rect x="956" y="636.1" width="2.8" height="15.5" fill="#f0f0f0"/>
<rect x="927.5" y="655.2" width="18.3" height="2.6" fill="#f0f0f0"/>
<rect x="921.2" y="635.1" width="5.8" height="5" fill="#e6e6e6"/>
<rect x="969" y="642.2" width="2.8" height="5.8" fill="#dcdcdc"/>
<rect x="937" y="642.4" width="2.5" height="3.6" fill="#f4f4f4"/>
<rect x="943.5" y="642.6" width="10" height="2.6" fill="#f4f4f4"/>
<rect x="927.5" y="468.6" width="54.6" height="126" fill="#231815"/>
<rect x="943.25" y="481.55" width="30.7" height="106.7" fill="none" stroke="#eef0ef" stroke-width="2.3"/>
<rect x="954" y="484.2" width="17.7" height="9.6" fill="#eef0ef"/>
<rect x="947.8" y="487.8" width="6.2" height="1.6" fill="#eef0ef"/>
<rect x="959" y="484.2" width="8.5" height="6.2" fill="#231815"/>
<rect x="954" y="497.1" width="17.7" height="11" fill="#eef0ef"/>
<rect x="947.8" y="500.7" width="6.2" height="1.6" fill="#eef0ef"/>
<rect x="959" y="500.3" width="8.5" height="7.8" fill="#231815"/>
<rect x="954" y="511" width="17.7" height="11.9" fill="#eef0ef"/>
<rect x="947.8" y="514.6" width="6.2" height="1.6" fill="#eef0ef"/>
<rect x="959" y="514.2" width="8.5" height="8.7" fill="#231815"/>
<rect x="954" y="528.2" width="17.7" height="11" fill="#eef0ef"/>
<rect x="947.8" y="531.8" width="6.2" height="1.6" fill="#eef0ef"/>
<rect x="959" y="531.4" width="8.5" height="7.8" fill="#231815"/>
<rect x="954" y="542" width="17.7" height="11.5" fill="#eef0ef"/>
<rect x="947.8" y="545.6" width="6.2" height="1.6" fill="#eef0ef"/>
<rect x="959" y="544.8" width="8.5" height="6.1" fill="#231815"/>
<rect x="954" y="557.8" width="17.7" height="9.1" fill="#eef0ef"/>
<rect x="947.8" y="561.4" width="6.2" height="1.6" fill="#eef0ef"/>
<rect x="959" y="560.6" width="8.5" height="3.7" fill="#231815"/>
<rect x="954" y="574.1" width="17.7" height="11" fill="#eef0ef"/>
<rect x="947.8" y="577.7" width="6.2" height="1.6" fill="#eef0ef"/>
<rect x="959" y="576.9" width="8.5" height="5.6" fill="#231815"/>
<rect x="948.1" y="494.6" width="2.8" height="2.4" fill="#a9a6a5"/>
<rect x="948.1" y="525.6" width="2.8" height="2.4" fill="#a9a6a5"/>
<rect x="948.1" y="540.6" width="2.8" height="2.4" fill="#a9a6a5"/>
<rect x="980.5" y="468.6" width="7.7" height="6" fill="#231815"/>
<rect x="930.5" y="474.5" width="2.8" height="115.1" fill="#eef0ef"/>
<text class="b" font-size="9.43" stroke-width="4" textLength="58" lengthAdjust="spacingAndGlyphs" x="921.9" y="684.8">Ethernet</text>
<rect x="896.2" y="676" width="91.7" height="11" fill="#231815"/>
<rect x="905" y="678.5" width="2.8" height="7.5" fill="#eef0ef"/>
<rect x="911" y="678.5" width="2.8" height="7.5" fill="#eef0ef"/>
<rect x="918" y="678.5" width="2.8" height="7.5" fill="#eef0ef"/>
<rect x="971.5" y="683" width="3" height="3.5" fill="#d0cfcf"/>
<rect x="960.5" y="682.5" width="4" height="3.5" fill="#8f8c8b"/>
<rect x="901.7" y="686.7" width="80.5" height="77" fill="#231815"/>
<path d="M923.9 691.7 H976.6 V761.5 H923.9 V738.5 H912.1 V715.1 H923.9z" fill="#eef0ef"/>
<rect x="907.3" y="691.7" width="4" height="23.2" fill="#eef0ef"/>
<rect x="907.3" y="738.7" width="4" height="22.8" fill="#eef0ef"/>
<rect x="914.1" y="694.1" width="6.4" height="17.6" fill="#eef0ef"/>
<rect x="914.1" y="739.7" width="6.4" height="18.4" fill="#eef0ef"/>
<rect x="912.1" y="712.5" width="4.2" height="2.6" fill="#231815"/>
<rect x="912.1" y="738.5" width="4.2" height="2.8" fill="#231815"/>
<path d="M923.5 700.9 H944.7 V705.5 H953.7 V700.9 H969.8 V750.3 H953.7 V745.7 H944.7 V750.3 H923.5" fill="none" stroke="#231815" stroke-width="2.6"/>
<text class="b" font-size="8" stroke-width="4.2" textLength="13.9" lengthAdjust="spacingAndGlyphs" x="1033.1" y="686.9">DO</text>
<text class="b" font-size="8" stroke-width="4.2" textLength="9.2" lengthAdjust="spacingAndGlyphs" x="1060" y="686.9">IN</text>
<rect x="1026.8" y="694.2" width="47.5" height="58.4" fill="#231815"/>
<rect x="1032.74" y="700.04" width="2.85" height="46.72" fill="#eef0ef"/>
<rect x="1032.74" y="745.3" width="34.91" height="2.34" fill="#eef0ef"/>
<rect x="1038.67" y="706.76" width="9.5" height="1.75" fill="#eef0ef"/>
<rect x="1048.17" y="702.67" width="16.62" height="11.68" fill="#eef0ef"/>
<rect x="1051.5" y="706.17" width="7.6" height="8.18" fill="#231815"/>
<rect x="1038.67" y="700.33" width="2.85" height="2.34" fill="#cfcdcd"/>
<rect x="1036.77" y="709.68" width="5.7" height="4.67" fill="#eef0ef"/>
<rect x="1038.67" y="721.65" width="9.5" height="1.75" fill="#eef0ef"/>
<rect x="1048.17" y="717.56" width="16.62" height="11.68" fill="#eef0ef"/>
<rect x="1051.5" y="721.06" width="7.6" height="8.18" fill="#231815"/>
<rect x="1038.67" y="715.22" width="2.85" height="2.34" fill="#cfcdcd"/>
<rect x="1036.77" y="724.57" width="5.7" height="4.67" fill="#eef0ef"/>
<rect x="1038.67" y="736.54" width="9.5" height="1.75" fill="#eef0ef"/>
<rect x="1048.17" y="732.45" width="16.62" height="11.68" fill="#eef0ef"/>
<rect x="1051.5" y="735.96" width="7.6" height="8.18" fill="#231815"/>
<rect x="1038.67" y="730.12" width="2.85" height="2.34" fill="#cfcdcd"/>
<rect x="1036.77" y="739.46" width="5.7" height="4.67" fill="#eef0ef"/>
<rect x="1011.5" y="703.8" width="14.6" height="8" fill="#231815"/>
<rect x="1010.5" y="720.6" width="15.6" height="5" fill="#231815"/>
<rect x="1013.5" y="717.4" width="8" height="3.6" fill="#231815"/>
<rect x="1010.5" y="735" width="15.6" height="6.4" fill="#231815"/>
<rect x="1015.5" y="732" width="9" height="3.2" fill="#231815"/>
<text class="b" font-size="9.71" stroke-width="5" textLength="26" lengthAdjust="spacingAndGlyphs" x="1013" y="778.5">LINK</text>
<text class="b" font-size="9.71" stroke-width="5" textLength="20.8" lengthAdjust="spacingAndGlyphs" x="1051.4" y="778.5">I/O</text>
<rect x="1016.8" y="782.6" width="61.7" height="145" fill="#231815"/>
<rect x="1022.9" y="785.07" width="14.1" height="4.78" fill="#d9d8d8"/>
<rect x="1054.63" y="785.07" width="18.47" height="4.78" fill="#d9d8d8"/>
<rect x="1022.9" y="793.62" width="3.7" height="17.98" fill="#eef0ef"/>
<rect x="1067.8" y="793.62" width="6.8" height="17.98" fill="#eef0ef"/>
<rect x="1022.9" y="815.81" width="3.7" height="9.13" fill="#eef0ef"/>
<rect x="1067.8" y="815.81" width="6.8" height="9.13" fill="#eef0ef"/>
<rect x="1022.9" y="826.83" width="3.7" height="1.88" fill="#eef0ef"/>
<rect x="1067.8" y="826.83" width="6.8" height="1.88" fill="#eef0ef"/>
<rect x="1022.9" y="831.18" width="3.7" height="13.49" fill="#eef0ef"/>
<rect x="1067.8" y="831.18" width="6.8" height="13.49" fill="#eef0ef"/>
<rect x="1022.9" y="847.12" width="3.7" height="4.93" fill="#eef0ef"/>
<rect x="1067.8" y="847.12" width="6.8" height="4.93" fill="#eef0ef"/>
<rect x="1022.9" y="853.94" width="3.7" height="5.51" fill="#eef0ef"/>
<rect x="1067.8" y="853.94" width="6.8" height="5.51" fill="#eef0ef"/>
<rect x="1022.9" y="865.54" width="3.7" height="14.21" fill="#eef0ef"/>
<rect x="1067.8" y="865.54" width="6.8" height="14.21" fill="#eef0ef"/>
<rect x="1022.9" y="881.49" width="3.7" height="1.88" fill="#eef0ef"/>
<rect x="1067.8" y="881.49" width="6.8" height="1.88" fill="#eef0ef"/>
<rect x="1022.9" y="887" width="3.7" height="5.51" fill="#eef0ef"/>
<rect x="1067.8" y="887" width="6.8" height="5.51" fill="#eef0ef"/>
<rect x="1022.9" y="894.98" width="3.7" height="2.47" fill="#eef0ef"/>
<rect x="1067.8" y="894.98" width="6.8" height="2.47" fill="#eef0ef"/>
<rect x="1022.9" y="900.05" width="3.7" height="22.04" fill="#eef0ef"/>
<rect x="1067.8" y="900.05" width="6.8" height="22.04" fill="#eef0ef"/>
<rect x="1030.9" y="810.88" width="33.9" height="89.18" fill="#eef0ef"/>
<rect x="1030.9" y="816.82" width="36.1" height="75.54" fill="#231815"/>
<rect x="1030.9" y="816.82" width="2.03" height="7.83" fill="#eef0ef"/>
<rect x="1059.71" y="810.88" width="5.09" height="13.05" fill="#eef0ef"/>
<rect x="1060.39" y="887" width="4.41" height="13.05" fill="#eef0ef"/>
<rect x="1036.21" y="825.26" width="20.91" height="61.13" fill="none" stroke="#d4d3d3" stroke-width="1.8"/>
<rect x="1041.75" y="828.71" width="10.17" height="52.78" fill="#eef0ef"/>
<rect x="1030.9" y="793.62" width="4.41" height="2.32" fill="#eef0ef"/>
<rect x="1030.9" y="797.83" width="4.41" height="3.62" fill="#eef0ef"/>
<rect x="1058.02" y="793.62" width="6.78" height="2.32" fill="#eef0ef"/>
<rect x="1058.02" y="797.83" width="6.78" height="3.62" fill="#eef0ef"/>
<rect x="1030.9" y="806.09" width="7.8" height="2.32" fill="#eef0ef"/>
<rect x="1041.75" y="806.09" width="9.83" height="2.32" fill="#bdbbbb"/>
<rect x="1054.63" y="806.09" width="10.17" height="2.32" fill="#eef0ef"/>
<rect x="1043.44" y="795.94" width="5.76" height="0.87" fill="#eef0ef"/>
<rect x="1030.9" y="901.94" width="7.8" height="2.17" fill="#eef0ef"/>
<rect x="1041.75" y="901.94" width="9.83" height="2.17" fill="#eef0ef"/>
<rect x="1054.63" y="901.94" width="10.17" height="2.17" fill="#eef0ef"/>
<rect x="1030.9" y="909.19" width="4.41" height="3.19" fill="#eef0ef"/>
<rect x="1058.02" y="909.19" width="6.78" height="3.19" fill="#eef0ef"/>
<rect x="1030.9" y="915.28" width="4.41" height="5.8" fill="#d6d5d5"/>
<rect x="1058.02" y="915.28" width="6.78" height="5.8" fill="#d6d5d5"/>
<rect x="1043.44" y="912.66" width="5.76" height="1.6" fill="#eef0ef"/>
<rect x="1021.9" y="924.12" width="51.7" height="1.3" fill="#eef0ef"/>
<text class="b" font-size="6.29" stroke-width="3.4" textLength="37.8" lengthAdjust="spacingAndGlyphs" x="888.6" y="932.3">MG41-NE</text>
</g>
<g id="front-hub">
<rect x="1483.5" y="277.5" width="231.1" height="669.7" fill="#eef0ef"/>
<rect x="1504.2" y="947.2" width="188.6" height="32.8" fill="#eef0ef"/>
<rect x="1482.1" y="276" width="300.9" height="3" fill="#231815"/>
<rect x="1482.1" y="945.6" width="300.9" height="3.2" fill="#231815"/>
<rect x="1482" y="277.5" width="3" height="758.3" fill="#231815"/>
<rect x="1713.25" y="277.5" width="2.7" height="758.3" fill="#231815"/>
<rect x="1776.95" y="277.5" width="2.7" height="669.7" fill="#231815"/>
<path d="M1778.3 279 l-3.4 10.5 h5.2z" fill="#5d5957"/>
<path d="M1778.3 945.4 l-3.4 -10.5 h5.2z" fill="#5d5957"/>
<rect x="1499.35" y="291.65" width="198.1" height="642.8" fill="none" stroke="#231815" stroke-width="2.7"/>
<rect x="1597.2" y="277.5" width="6.6" height="13.5" fill="#231815"/>
<rect x="1597.2" y="934.5" width="6.6" height="12.7" fill="#231815"/>
<rect x="1715.8" y="327.4" width="4.8" height="32.2" fill="#ffffff" stroke="#231815" stroke-width="2.4"/>
<rect x="1716" y="326" width="2.4" height="31.6" fill="#ffffff"/>
<rect x="1715.6" y="867" width="5.2" height="33.8" fill="#ffffff" stroke="#231815" stroke-width="2"/>
<rect x="1504.15" y="947.2" width="2.9" height="22.8" fill="#231815"/>
<rect x="1544.05" y="947.2" width="2.9" height="22.8" fill="#231815"/>
<rect x="1582.05" y="947.2" width="2.9" height="22.8" fill="#231815"/>
<rect x="1613.25" y="947.2" width="2.9" height="22.8" fill="#231815"/>
<rect x="1652.05" y="947.2" width="2.9" height="22.8" fill="#231815"/>
<rect x="1689.95" y="947.2" width="2.9" height="22.8" fill="#231815"/>
<rect x="1504.2" y="968.6" width="188.6" height="2.4" fill="#231815"/>
<rect x="1504.2" y="977.3" width="188.6" height="2.8" fill="#231815"/>
<rect x="1504.15" y="969" width="2.9" height="11" fill="#231815"/>
<rect x="1689.95" y="969" width="2.9" height="11" fill="#231815"/>
<rect x="1583.5" y="965.35" width="31.2" height="1.7" fill="#231815"/>
<rect x="1483.5" y="1025.3" width="231.1" height="2.2" fill="#231815"/>
<path d="M1485 1026.4 l11.5 -1.6 v4.6z" fill="#5d5957"/>
<path d="M1713.1 1026.4 l-11.5 -1.6 v4.6z" fill="#5d5957"/>
<text class="t" transform="matrix(0.5381 0 0 0.4957 1569.22 1021.70)">43</text>
<text class="t" transform="matrix(0 -0.4458 0.5652 0 1770.20 651.87)">155</text>
<text class="b" font-size="8.86" stroke-width="4.4" textLength="48.9" lengthAdjust="spacingAndGlyphs" x="1621.4" y="312.6">POWER</text>
<ellipse cx="1684.75" cy="310.8" rx="8.05" ry="6.8" fill="#231815"/>
<rect x="1681.55" y="309.8" width="6.4" height="2.6" fill="#b0adac"/>
<text class="b" font-size="11.14" stroke-width="4.4" y="350.8"><tspan x="1616.4" textLength="25.4" lengthAdjust="spacingAndGlyphs">SIG.</tspan> <tspan x="1651.2" textLength="10.6" lengthAdjust="spacingAndGlyphs">IN</tspan> <tspan x="1671" textLength="7.8" lengthAdjust="spacingAndGlyphs">A</tspan></text>
<ellipse cx="1686.2" cy="346.9" rx="6.6" ry="6.1" fill="#231815"/>
<rect x="1683" y="345.9" width="6.4" height="2.6" fill="#b0adac"/>
<ellipse cx="1653" cy="388.4" rx="37.8" ry="29.6" fill="#b9b7b6"/>
<ellipse cx="1653" cy="388.4" rx="36.6" ry="28.4" fill="#231815"/>
<ellipse cx="1653" cy="388.4" rx="33.1" ry="25.2" fill="none" stroke="#858180" stroke-width="2.6" stroke-dasharray="4.2 3.6"/>
<ellipse cx="1653" cy="388.4" rx="26.1" ry="20.2" fill="none" stroke="#767271" stroke-width="2.6" stroke-dasharray="5 4.4"/>
<rect x="1640" y="373" width="28" height="29" fill="#231815"/>
<rect x="1641.5" y="372.8" width="19" height="4" fill="#f1f1f1"/>
<rect x="1641.5" y="398.6" width="19" height="3.8" fill="#f1f1f1"/>
<rect x="1635.5" y="377.9" width="4.9" height="20" fill="#e3e3e3"/>
<rect x="1668.2" y="379.9" width="4.2" height="16" fill="#9c9998"/>
<rect x="1625.6" y="385.8" width="9" height="4.2" fill="#f1f1f1"/>
<rect x="1679" y="386" width="4" height="4.4" fill="#b5b2b1"/>
<rect x="1660.5" y="377.8" width="7.5" height="1.8" fill="#f4f4f4"/>
<rect x="1645.5" y="393" width="4.1" height="3" fill="#f4f4f4"/>
<text class="b" font-size="10.29" stroke-width="4.4" y="434.6"><tspan x="1616.4" textLength="25.4" lengthAdjust="spacingAndGlyphs">SIG.</tspan> <tspan x="1651.2" textLength="10.6" lengthAdjust="spacingAndGlyphs">IN</tspan> <tspan x="1671" textLength="7.8" lengthAdjust="spacingAndGlyphs">B</tspan></text>
<ellipse cx="1686.2" cy="431" rx="6.6" ry="5.8" fill="#231815"/>
<rect x="1683" y="430" width="6.4" height="2.6" fill="#b0adac"/>
<ellipse cx="1653" cy="472.5" rx="37.8" ry="29.6" fill="#b9b7b6"/>
<ellipse cx="1653" cy="472.5" rx="36.6" ry="28.4" fill="#231815"/>
<ellipse cx="1653" cy="472.5" rx="33.1" ry="25.2" fill="none" stroke="#858180" stroke-width="2.6" stroke-dasharray="4.2 3.6"/>
<ellipse cx="1653" cy="472.5" rx="26.1" ry="20.2" fill="none" stroke="#767271" stroke-width="2.6" stroke-dasharray="5 4.4"/>
<rect x="1640" y="457.1" width="28" height="29" fill="#231815"/>
<rect x="1641.5" y="456.9" width="19" height="4" fill="#f1f1f1"/>
<rect x="1641.5" y="482.7" width="19" height="3.8" fill="#f1f1f1"/>
<rect x="1635.5" y="462" width="4.9" height="20" fill="#e3e3e3"/>
<rect x="1668.2" y="464" width="4.2" height="16" fill="#9c9998"/>
<rect x="1625.6" y="469.9" width="9" height="4.2" fill="#f1f1f1"/>
<rect x="1679" y="470.1" width="4" height="4.4" fill="#b5b2b1"/>
<rect x="1645.5" y="469.3" width="4.1" height="5.4" fill="#f4f4f4"/>
<rect x="1660.5" y="469.5" width="7.5" height="4.8" fill="#f4f4f4"/>
<text class="b" font-size="9.14" stroke-width="4.4" y="518.8"><tspan x="1616.4" textLength="25.4" lengthAdjust="spacingAndGlyphs">SIG.</tspan> <tspan x="1651.2" textLength="10.6" lengthAdjust="spacingAndGlyphs">IN</tspan> <tspan x="1671" textLength="7.8" lengthAdjust="spacingAndGlyphs">C</tspan></text>
<ellipse cx="1686.2" cy="515.6" rx="6.6" ry="5.4" fill="#231815"/>
<rect x="1683" y="514.6" width="6.4" height="2.6" fill="#b0adac"/>
<ellipse cx="1653" cy="557" rx="37.8" ry="29.6" fill="#b9b7b6"/>
<ellipse cx="1653" cy="557" rx="36.6" ry="28.4" fill="#231815"/>
<ellipse cx="1653" cy="557" rx="33.1" ry="25.2" fill="none" stroke="#858180" stroke-width="2.6" stroke-dasharray="4.2 3.6"/>
<ellipse cx="1653" cy="557" rx="26.1" ry="20.2" fill="none" stroke="#767271" stroke-width="2.6" stroke-dasharray="5 4.4"/>
<rect x="1640" y="541.6" width="28" height="29" fill="#231815"/>
<rect x="1641.5" y="541.4" width="19" height="4" fill="#f1f1f1"/>
<rect x="1641.5" y="567.2" width="19" height="3.8" fill="#f1f1f1"/>
<rect x="1635.5" y="546.5" width="4.9" height="20" fill="#e3e3e3"/>
<rect x="1668.2" y="548.5" width="4.2" height="16" fill="#9c9998"/>
<rect x="1625.6" y="554.4" width="9" height="4.2" fill="#f1f1f1"/>
<rect x="1679" y="554.6" width="4" height="4.4" fill="#b5b2b1"/>
<rect x="1645.5" y="549.8" width="4.1" height="2" fill="#f4f4f4"/>
<rect x="1651" y="558" width="6" height="3" fill="#f4f4f4"/>
<rect x="1660.5" y="563" width="7.5" height="3" fill="#f4f4f4"/>
<text class="b" font-size="9.14" stroke-width="4.4" y="603.8"><tspan x="1616.4" textLength="25.4" lengthAdjust="spacingAndGlyphs">SIG.</tspan> <tspan x="1651.2" textLength="10.6" lengthAdjust="spacingAndGlyphs">IN</tspan> <tspan x="1671" textLength="7.8" lengthAdjust="spacingAndGlyphs">D</tspan></text>
<ellipse cx="1686.2" cy="600.6" rx="6.6" ry="5.4" fill="#231815"/>
<rect x="1683" y="599.6" width="6.4" height="2.6" fill="#b0adac"/>
<ellipse cx="1653" cy="641.7" rx="37.8" ry="29.6" fill="#b9b7b6"/>
<ellipse cx="1653" cy="641.7" rx="36.6" ry="28.4" fill="#231815"/>
<ellipse cx="1653" cy="641.7" rx="33.1" ry="25.2" fill="none" stroke="#858180" stroke-width="2.6" stroke-dasharray="4.2 3.6"/>
<ellipse cx="1653" cy="641.7" rx="26.1" ry="20.2" fill="none" stroke="#767271" stroke-width="2.6" stroke-dasharray="5 4.4"/>
<rect x="1640" y="626.3" width="28" height="29" fill="#231815"/>
<rect x="1641.5" y="626.1" width="19" height="4" fill="#f1f1f1"/>
<rect x="1641.5" y="651.9" width="19" height="3.8" fill="#f1f1f1"/>
<rect x="1635.5" y="631.2" width="4.9" height="20" fill="#e3e3e3"/>
<rect x="1668.2" y="633.2" width="4.2" height="16" fill="#9c9998"/>
<rect x="1625.6" y="639.1" width="9" height="4.2" fill="#f1f1f1"/>
<rect x="1679" y="639.3" width="4" height="4.4" fill="#b5b2b1"/>
<rect x="1660.5" y="633.7" width="7.5" height="2" fill="#f4f4f4"/>
<rect x="1651" y="648.3" width="6" height="2.2" fill="#f4f4f4"/>
<rect x="1660.5" y="652.7" width="7.5" height="2" fill="#f4f4f4"/>
<text class="b" font-size="8.86" stroke-width="4.6" textLength="17.6" lengthAdjust="spacingAndGlyphs" x="1647.7" y="684.7">DO</text>
<text class="b" font-size="8.29" stroke-width="5" textLength="11.8" lengthAdjust="spacingAndGlyphs" x="1675.7" y="684.5">IN</text>
<rect x="1645" y="692.2" width="47.8" height="57.5" fill="#231815"/>
<rect x="1683.24" y="697.09" width="3.11" height="47.44" fill="#eef0ef"/>
<rect x="1651.69" y="742.23" width="34.65" height="3.45" fill="#eef0ef"/>
<rect x="1655.04" y="704.56" width="9.56" height="1.73" fill="#eef0ef"/>
<rect x="1664.6" y="700.54" width="15.77" height="11.5" fill="#eef0ef"/>
<rect x="1667.94" y="703.99" width="7.65" height="8.05" fill="#231815"/>
<rect x="1655.04" y="698.24" width="2.87" height="2.3" fill="#cfcdcd"/>
<rect x="1653.13" y="707.44" width="5.74" height="4.6" fill="#eef0ef"/>
<rect x="1655.04" y="719.23" width="9.56" height="1.73" fill="#eef0ef"/>
<rect x="1664.6" y="715.2" width="15.77" height="11.5" fill="#eef0ef"/>
<rect x="1667.94" y="718.65" width="7.65" height="8.05" fill="#231815"/>
<rect x="1655.04" y="712.9" width="2.87" height="2.3" fill="#cfcdcd"/>
<rect x="1653.13" y="722.1" width="5.74" height="4.6" fill="#eef0ef"/>
<rect x="1655.04" y="733.89" width="9.56" height="1.73" fill="#eef0ef"/>
<rect x="1664.6" y="729.86" width="15.77" height="11.5" fill="#eef0ef"/>
<rect x="1667.94" y="733.31" width="7.65" height="8.05" fill="#231815"/>
<rect x="1655.04" y="727.56" width="2.87" height="2.3" fill="#cfcdcd"/>
<rect x="1653.13" y="736.76" width="5.74" height="4.6" fill="#eef0ef"/>
<rect x="1629.4" y="701.2" width="11.8" height="9.4" fill="#231815"/>
<rect x="1626.4" y="716.6" width="14.8" height="7.2" fill="#231815"/>
<rect x="1634" y="714.6" width="7.2" height="2.4" fill="#231815"/>
<rect x="1629.4" y="731" width="11.8" height="9.4" fill="#231815"/>
<text class="b" font-size="9.43" stroke-width="5" textLength="25.8" lengthAdjust="spacingAndGlyphs" x="1606.7" y="759.3">LINK</text>
<path d="M1570.5 763.3 V755.2 H1600" fill="none" stroke="#231815" stroke-width="3.4"/>
<path d="M1635 755.2 H1664.6 V763.3" fill="none" stroke="#231815" stroke-width="3.4"/>
<text class="b" font-size="7.43" stroke-width="4" textLength="26" lengthAdjust="spacingAndGlyphs" x="1554.5" y="774.8">OUT</text>
<ellipse cx="1594.15" cy="770.5" rx="5.85" ry="6.3" fill="#231815"/>
<rect x="1590.95" y="769.5" width="6.4" height="2.6" fill="#b0adac"/>
<text class="b" font-size="7.43" stroke-width="4" textLength="6.7" lengthAdjust="spacingAndGlyphs" x="1660.3" y="774.8">IN</text>
<ellipse cx="1684.75" cy="770.5" rx="8.05" ry="6.3" fill="#231815"/>
<rect x="1681.55" y="769.5" width="6.4" height="2.6" fill="#b0adac"/>
<rect x="1544.4" y="781.7" width="59.4" height="143.3" fill="#231815"/>
<rect x="1546.7" y="784.14" width="13.82" height="4.73" fill="#d9d8d8"/>
<rect x="1580.23" y="784.14" width="15.97" height="4.73" fill="#d9d8d8"/>
<rect x="1546.7" y="792.59" width="3.1" height="17.77" fill="#eef0ef"/>
<rect x="1594.7" y="792.59" width="3" height="17.77" fill="#eef0ef"/>
<rect x="1546.7" y="814.52" width="3.1" height="9.03" fill="#eef0ef"/>
<rect x="1594.7" y="814.52" width="3" height="9.03" fill="#eef0ef"/>
<rect x="1546.7" y="825.41" width="3.1" height="1.86" fill="#eef0ef"/>
<rect x="1594.7" y="825.41" width="3" height="1.86" fill="#eef0ef"/>
<rect x="1546.7" y="829.71" width="3.1" height="13.33" fill="#eef0ef"/>
<rect x="1594.7" y="829.71" width="3" height="13.33" fill="#eef0ef"/>
<rect x="1546.7" y="845.47" width="3.1" height="4.87" fill="#eef0ef"/>
<rect x="1594.7" y="845.47" width="3" height="4.87" fill="#eef0ef"/>
<rect x="1546.7" y="852.2" width="3.1" height="5.45" fill="#eef0ef"/>
<rect x="1594.7" y="852.2" width="3" height="5.45" fill="#eef0ef"/>
<rect x="1546.7" y="863.67" width="3.1" height="14.04" fill="#eef0ef"/>
<rect x="1594.7" y="863.67" width="3" height="14.04" fill="#eef0ef"/>
<rect x="1546.7" y="879.43" width="3.1" height="1.86" fill="#eef0ef"/>
<rect x="1594.7" y="879.43" width="3" height="1.86" fill="#eef0ef"/>
<rect x="1546.7" y="884.88" width="3.1" height="5.45" fill="#eef0ef"/>
<rect x="1594.7" y="884.88" width="3" height="5.45" fill="#eef0ef"/>
<rect x="1546.7" y="892.76" width="3.1" height="2.44" fill="#eef0ef"/>
<rect x="1594.7" y="892.76" width="3" height="2.44" fill="#eef0ef"/>
<rect x="1546.7" y="897.77" width="3.1" height="21.78" fill="#eef0ef"/>
<rect x="1594.7" y="897.77" width="3" height="21.78" fill="#eef0ef"/>
<rect x="1553.7" y="809.64" width="37.9" height="88.13" fill="#eef0ef"/>
<rect x="1553.7" y="815.52" width="40.1" height="74.66" fill="#231815"/>
<rect x="1553.7" y="815.52" width="2.27" height="7.74" fill="#eef0ef"/>
<rect x="1585.92" y="809.64" width="5.68" height="12.9" fill="#eef0ef"/>
<rect x="1586.67" y="884.88" width="4.93" height="12.9" fill="#eef0ef"/>
<rect x="1559.53" y="823.87" width="23.59" height="60.39" fill="none" stroke="#d4d3d3" stroke-width="1.8"/>
<rect x="1565.83" y="827.27" width="11.37" height="52.16" fill="#eef0ef"/>
<rect x="1553.7" y="792.59" width="4.93" height="2.29" fill="#eef0ef"/>
<rect x="1553.7" y="796.75" width="4.93" height="3.58" fill="#eef0ef"/>
<rect x="1584.02" y="792.59" width="7.58" height="2.29" fill="#eef0ef"/>
<rect x="1584.02" y="796.75" width="7.58" height="3.58" fill="#eef0ef"/>
<rect x="1553.7" y="804.91" width="8.72" height="2.29" fill="#eef0ef"/>
<rect x="1565.83" y="804.91" width="10.99" height="2.29" fill="#bdbbbb"/>
<rect x="1580.23" y="804.91" width="11.37" height="2.29" fill="#eef0ef"/>
<rect x="1567.72" y="794.88" width="6.44" height="0.86" fill="#eef0ef"/>
<rect x="1553.7" y="899.64" width="8.72" height="2.15" fill="#eef0ef"/>
<rect x="1565.83" y="899.64" width="10.99" height="2.15" fill="#eef0ef"/>
<rect x="1580.23" y="899.64" width="11.37" height="2.15" fill="#eef0ef"/>
<rect x="1553.7" y="906.8" width="4.93" height="3.15" fill="#eef0ef"/>
<rect x="1584.02" y="906.8" width="7.58" height="3.15" fill="#eef0ef"/>
<rect x="1553.7" y="912.82" width="4.93" height="5.73" fill="#d6d5d5"/>
<rect x="1584.02" y="912.82" width="7.58" height="5.73" fill="#d6d5d5"/>
<rect x="1567.72" y="910.24" width="6.44" height="1.58" fill="#eef0ef"/>
<rect x="1545.7" y="921.56" width="51" height="1.29" fill="#eef0ef"/>
<rect x="1632.5" y="781.7" width="66.3" height="143.3" fill="#231815"/>
<rect x="1638.6" y="784.14" width="14.42" height="4.73" fill="#d9d8d8"/>
<rect x="1672.73" y="784.14" width="15.97" height="4.73" fill="#d9d8d8"/>
<rect x="1638.6" y="792.59" width="3.1" height="17.77" fill="#eef0ef"/>
<rect x="1687.2" y="792.59" width="3" height="17.77" fill="#eef0ef"/>
<rect x="1638.6" y="814.52" width="3.1" height="9.03" fill="#eef0ef"/>
<rect x="1687.2" y="814.52" width="3" height="9.03" fill="#eef0ef"/>
<rect x="1638.6" y="825.41" width="3.1" height="1.86" fill="#eef0ef"/>
<rect x="1687.2" y="825.41" width="3" height="1.86" fill="#eef0ef"/>
<rect x="1638.6" y="829.71" width="3.1" height="13.33" fill="#eef0ef"/>
<rect x="1687.2" y="829.71" width="3" height="13.33" fill="#eef0ef"/>
<rect x="1638.6" y="845.47" width="3.1" height="4.87" fill="#eef0ef"/>
<rect x="1687.2" y="845.47" width="3" height="4.87" fill="#eef0ef"/>
<rect x="1638.6" y="852.2" width="3.1" height="5.45" fill="#eef0ef"/>
<rect x="1687.2" y="852.2" width="3" height="5.45" fill="#eef0ef"/>
<rect x="1638.6" y="863.67" width="3.1" height="14.04" fill="#eef0ef"/>
<rect x="1687.2" y="863.67" width="3" height="14.04" fill="#eef0ef"/>
<rect x="1638.6" y="879.43" width="3.1" height="1.86" fill="#eef0ef"/>
<rect x="1687.2" y="879.43" width="3" height="1.86" fill="#eef0ef"/>
<rect x="1638.6" y="884.88" width="3.1" height="5.45" fill="#eef0ef"/>
<rect x="1687.2" y="884.88" width="3" height="5.45" fill="#eef0ef"/>
<rect x="1638.6" y="892.76" width="3.1" height="2.44" fill="#eef0ef"/>
<rect x="1687.2" y="892.76" width="3" height="2.44" fill="#eef0ef"/>
<rect x="1638.6" y="897.77" width="3.1" height="21.78" fill="#eef0ef"/>
<rect x="1687.2" y="897.77" width="3" height="21.78" fill="#eef0ef"/>
<rect x="1646.2" y="809.64" width="37.9" height="88.13" fill="#eef0ef"/>
<rect x="1646.2" y="815.52" width="40.1" height="74.66" fill="#231815"/>
<rect x="1646.2" y="815.52" width="2.27" height="7.74" fill="#eef0ef"/>
<rect x="1678.41" y="809.64" width="5.68" height="12.9" fill="#eef0ef"/>
<rect x="1679.17" y="884.88" width="4.93" height="12.9" fill="#eef0ef"/>
<rect x="1652.03" y="823.87" width="23.59" height="60.39" fill="none" stroke="#d4d3d3" stroke-width="1.8"/>
<rect x="1658.33" y="827.27" width="11.37" height="52.16" fill="#eef0ef"/>
<rect x="1646.2" y="792.59" width="4.93" height="2.29" fill="#eef0ef"/>
<rect x="1646.2" y="796.75" width="4.93" height="3.58" fill="#eef0ef"/>
<rect x="1676.52" y="792.59" width="7.58" height="2.29" fill="#eef0ef"/>
<rect x="1676.52" y="796.75" width="7.58" height="3.58" fill="#eef0ef"/>
<rect x="1646.2" y="804.91" width="8.72" height="2.29" fill="#eef0ef"/>
<rect x="1658.33" y="804.91" width="10.99" height="2.29" fill="#bdbbbb"/>
<rect x="1672.73" y="804.91" width="11.37" height="2.29" fill="#eef0ef"/>
<rect x="1660.22" y="794.88" width="6.44" height="0.86" fill="#eef0ef"/>
<rect x="1646.2" y="899.64" width="8.72" height="2.15" fill="#eef0ef"/>
<rect x="1658.33" y="899.64" width="10.99" height="2.15" fill="#eef0ef"/>
<rect x="1672.73" y="899.64" width="11.37" height="2.15" fill="#eef0ef"/>
<rect x="1646.2" y="906.8" width="4.93" height="3.15" fill="#eef0ef"/>
<rect x="1676.52" y="906.8" width="7.58" height="3.15" fill="#eef0ef"/>
<rect x="1646.2" y="912.82" width="4.93" height="5.73" fill="#d6d5d5"/>
<rect x="1676.52" y="912.82" width="7.58" height="5.73" fill="#d6d5d5"/>
<rect x="1660.22" y="910.24" width="6.44" height="1.58" fill="#eef0ef"/>
<rect x="1637.6" y="921.56" width="51.6" height="1.29" fill="#eef0ef"/>
<text class="b" font-size="4.57" stroke-width="3" textLength="32.8" lengthAdjust="spacingAndGlyphs" x="1505.7" y="929.7">MG42</text>
</g>
<g id="side">
<path d="M1848.6 277.6 H2220.4 V534.6 H2194.6 V690.8 H2218.8 V950.8 H1848.6z" fill="#eef0ef"/>
<path d="M2192 947 L2204.5 948.5 L2204.5 947 H2222 V979.6 H2190.8 V968.6 L2203 948z" fill="#eef0ef"/>
<path d="M2204.5 948.6 L2191.6 969 V978.8 H2222.4" fill="none" stroke="#231815" stroke-width="1.8"/>
<rect x="2220.3" y="948.6" width="4.6" height="31.4" fill="#231815"/>
<rect x="1847.4" y="276.2" width="374.2" height="2.8" fill="#231815"/>
<rect x="1847.2" y="277.6" width="2.8" height="760.8" fill="#231815"/>
<rect x="2219.1" y="277.6" width="2.6" height="258.4" fill="#231815"/>
<rect x="2193.3" y="533.5" width="28.3" height="3.4" fill="#231815"/>
<rect x="2193.3" y="534" width="2.6" height="158" fill="#231815"/>
<rect x="2193.3" y="689.5" width="18.7" height="2.2" fill="#231815"/>
<rect x="2201.5" y="538" width="8.5" height="7.5" fill="#4a4543"/>
<rect x="2196" y="540" width="4" height="13" fill="#8d8a89"/>
<rect x="2218" y="690" width="2.6" height="260.8" fill="#231815"/>
<rect x="2216.7" y="706" width="4.6" height="245.8" fill="#231815"/>
<rect x="2217.4" y="685.4" width="7" height="20.8" fill="#ffffff" stroke="#231815" stroke-width="1.6"/>
<path d="M2196 674 Q2204 676 2205 686 M2205 678 Q2216 676 2220 688" fill="none" stroke="#55504f" stroke-width="2.2"/>
<rect x="1847.4" y="948.8" width="358.6" height="4" fill="#231815"/>
<rect x="2219.1" y="950.8" width="2.6" height="87.6" fill="#231815"/>
<rect x="1904.9" y="698.5" width="158.4" height="163" fill="none" stroke="#231815" stroke-width="3"/>
<rect x="1905" y="860" width="158" height="5.6" fill="#231815"/>
<ellipse cx="1882.3" cy="342.6" rx="22.6" ry="18.8" fill="none" stroke="#3a3432" stroke-width="2.4"/>
<path d="M1867.3 357.1 Q1882.3 364.6 1897.3 357.1" fill="none" stroke="#231815" stroke-width="3.6"/>
<ellipse cx="2188.5" cy="342.6" rx="22.6" ry="18.8" fill="none" stroke="#3a3432" stroke-width="2.4"/>
<path d="M2173.5 357.1 Q2188.5 364.6 2203.5 357.1" fill="none" stroke="#231815" stroke-width="3.6"/>
<ellipse cx="1882.3" cy="884.2" rx="22.6" ry="18.8" fill="none" stroke="#3a3432" stroke-width="2.4"/>
<path d="M1899.9 873.2 Q1907.9 884.2 1899.9 895.2" fill="none" stroke="#231815" stroke-width="3.8"/>
<ellipse cx="2188.5" cy="884.2" rx="22.6" ry="18.8" fill="none" stroke="#3a3432" stroke-width="2.4"/>
<path d="M2206.1 873.2 Q2214.1 884.2 2206.1 895.2" fill="none" stroke="#231815" stroke-width="3.8"/>
<ellipse cx="1914.6" cy="315.6" rx="17.6" ry="15" fill="#d3d2d1" stroke="#4a4543" stroke-width="2"/>
<ellipse cx="1914.6" cy="315" rx="11.6" ry="9.4" fill="#231815"/>
<ellipse cx="1914.6" cy="315" rx="7.8" ry="6.2" fill="none" stroke="#7d7978" stroke-width="1.8" stroke-dasharray="3 2.4"/>
<rect x="1913" y="313.6" width="3.6" height="3.2" fill="#d8d7d6"/>
<ellipse cx="2155.2" cy="315.6" rx="17.6" ry="15" fill="#d3d2d1" stroke="#4a4543" stroke-width="2"/>
<ellipse cx="2155.2" cy="315" rx="11.6" ry="9.4" fill="#231815"/>
<ellipse cx="2155.2" cy="315" rx="7.8" ry="6.2" fill="none" stroke="#7d7978" stroke-width="1.8" stroke-dasharray="3 2.4"/>
<rect x="2153.6" y="313.6" width="3.6" height="3.2" fill="#d8d7d6"/>
<ellipse cx="2016.7" cy="604.8" rx="17.6" ry="15" fill="#d3d2d1" stroke="#4a4543" stroke-width="2"/>
<ellipse cx="2016.7" cy="604.2" rx="11.6" ry="9.4" fill="#231815"/>
<ellipse cx="2016.7" cy="604.2" rx="7.8" ry="6.2" fill="none" stroke="#7d7978" stroke-width="1.8" stroke-dasharray="3 2.4"/>
<rect x="2015.1" y="602.8" width="3.6" height="3.2" fill="#d8d7d6"/>
<ellipse cx="1957.3" cy="911.4" rx="17.6" ry="15" fill="#d3d2d1" stroke="#4a4543" stroke-width="2"/>
<ellipse cx="1957.3" cy="910.8" rx="11.6" ry="9.4" fill="#231815"/>
<ellipse cx="1957.3" cy="910.8" rx="7.8" ry="6.2" fill="none" stroke="#7d7978" stroke-width="1.8" stroke-dasharray="3 2.4"/>
<rect x="1955.7" y="909.4" width="3.6" height="3.2" fill="#d8d7d6"/>
<ellipse cx="2155.2" cy="911.4" rx="17.6" ry="15" fill="#d3d2d1" stroke="#4a4543" stroke-width="2"/>
<ellipse cx="2155.2" cy="910.8" rx="11.6" ry="9.4" fill="#231815"/>
<ellipse cx="2155.2" cy="910.8" rx="7.8" ry="6.2" fill="none" stroke="#7d7978" stroke-width="1.8" stroke-dasharray="3 2.4"/>
<rect x="2153.6" y="909.4" width="3.6" height="3.2" fill="#d8d7d6"/>
<path d="M1848 806.6 H1843.5 L1841.2 803 H1835 L1831.8 807 V901 H1834 L1836.5 903.4 H1843 L1844.6 901 H1848z" fill="#ffffff" stroke="#231815" stroke-width="2"/>
<ellipse cx="1842.4" cy="853.2" rx="4.6" ry="4.8" fill="#9d9a99" stroke="#3c3735" stroke-width="2.2"/>
<ellipse cx="1842.4" cy="888.6" rx="4.6" ry="4.8" fill="#e4e3e3" stroke="#3c3735" stroke-width="2.2"/>
<rect x="1836" y="848" width="12" height="2.6" fill="#231815"/>
<rect x="1836" y="882.6" width="12" height="2.2" fill="#231815"/>
<rect x="1848.6" y="1027.65" width="371.8" height="1.9" fill="#231815"/>
<path d="M1850.1 1028.6 l11.5 -1.6 v4.6z" fill="#5d5957"/>
<path d="M2218.9 1028.6 l-11.5 -1.6 v4.6z" fill="#5d5957"/>
<text class="t" transform="matrix(0.5446 0 0 0.4614 2002.28 1023.80)">69</text>
</g>
<g id="bottom-nc">
<rect x="144.7" y="1082.8" width="230.5" height="295.2" rx="4" fill="#eef0ef"/>
<rect x="148.7" y="1081.5" width="222.5" height="2.6" fill="#8d8988"/>
<rect x="148.7" y="1082" width="16" height="2" fill="#231815"/>
<rect x="361.2" y="1082" width="10" height="2" fill="#231815"/>
<path d="M149.7 1083 Q144.7 1083 144.7 1088 V1373.6 Q144.7 1378 149.7 1378" fill="none" stroke="#231815" stroke-width="2.8"/>
<path d="M370.2 1083 Q375.2 1083 375.2 1088 V1373.6 Q375.2 1378 370.2 1378" fill="none" stroke="#231815" stroke-width="2.4"/>
<rect x="148.7" y="1377.1" width="222.5" height="1.4" fill="#231815"/>
<rect x="256.9" y="1081.2" width="7" height="277.2" fill="#231815"/>
<path d="M296.2 1084.6 V1075.24 H306.31 V1069 H347.06 V1075.24 H354 V1084.6z" fill="#231815"/>
<rect x="321.05" y="1071.6" width="9.83" height="13" fill="#eef0ef"/>
<rect x="310.07" y="1078.44" width="34.68" height="6.76" fill="#eef0ef"/>
<rect x="300.25" y="1081.4" width="4.62" height="3.2" fill="#8d8988"/>
<rect x="347.06" y="1081.4" width="4.05" height="3.2" fill="#8d8988"/>
<rect x="376.3" y="1091.3" width="4.8" height="36.2" fill="#ffffff" stroke="#231815" stroke-width="2.2"/>
<rect x="376.2" y="1337" width="5" height="39.2" fill="#ffffff" stroke="#231815" stroke-width="2"/>
<rect x="166.6" y="1358.8" width="186" height="25.4" fill="#eef0ef" stroke="#231815" stroke-width="2.8"/>
<rect x="165.2" y="1381.2" width="188.8" height="4.4" fill="#231815"/>
<rect x="354" y="1367" width="4.2" height="10.6" fill="#231815"/>
<rect x="256.9" y="1081.2" width="7" height="277.7" fill="#231815"/>
</g>
<g id="bottom-ne">
<rect x="868" y="1082.8" width="229.6" height="295.2" rx="4" fill="#eef0ef"/>
<rect x="872" y="1081.5" width="221.6" height="2.6" fill="#8d8988"/>
<rect x="872" y="1082" width="16" height="2" fill="#231815"/>
<rect x="1083.6" y="1082" width="10" height="2" fill="#231815"/>
<path d="M873 1083 Q868 1083 868 1088 V1373.6 Q868 1378 873 1378" fill="none" stroke="#231815" stroke-width="3.6"/>
<path d="M1092.6 1083 Q1097.6 1083 1097.6 1088 V1373.6 Q1097.6 1378 1092.6 1378" fill="none" stroke="#231815" stroke-width="3"/>
<rect x="872" y="1377.1" width="221.6" height="1.4" fill="#231815"/>
<rect x="982.1" y="1081.2" width="3" height="277.2" fill="#231815"/>
<path d="M1017.2 1084.6 V1075.24 H1027.14 V1069 H1067.18 V1075.24 H1074 V1084.6z" fill="#231815"/>
<rect x="1041.62" y="1071.6" width="9.66" height="13" fill="#eef0ef"/>
<rect x="1030.83" y="1078.44" width="34.08" height="6.76" fill="#eef0ef"/>
<rect x="1021.18" y="1081.4" width="4.54" height="3.2" fill="#8d8988"/>
<rect x="1067.18" y="1081.4" width="3.98" height="3.2" fill="#8d8988"/>
<rect x="1098.9" y="1090" width="2.9" height="38.6" fill="#231815"/>
<rect x="1097.6" y="1336" width="4.2" height="40.8" fill="#231815"/>
<rect x="888.1" y="1359.3" width="188" height="24.4" fill="#eef0ef" stroke="#231815" stroke-width="3.8"/>
<rect x="886.2" y="1381.2" width="191.8" height="4.4" fill="#231815"/>
<rect x="982.1" y="1081.2" width="3" height="277.7" fill="#231815"/>
</g>
<g id="bottom-hub">
<rect x="1483.5" y="1080.6" width="231.1" height="296.6" rx="4" fill="#eef0ef"/>
<rect x="1487.5" y="1079.3" width="223.1" height="2.6" fill="#8d8988"/>
<rect x="1487.5" y="1079.8" width="16" height="2" fill="#231815"/>
<rect x="1700.6" y="1079.8" width="10" height="2" fill="#231815"/>
<path d="M1488.5 1080.8 Q1483.5 1080.8 1483.5 1085.8 V1372.8 Q1483.5 1377.2 1488.5 1377.2" fill="none" stroke="#231815" stroke-width="2.8"/>
<path d="M1709.6 1080.8 Q1714.6 1080.8 1714.6 1085.8 V1372.8 Q1714.6 1377.2 1709.6 1377.2" fill="none" stroke="#231815" stroke-width="2.4"/>
<rect x="1487.5" y="1376.3" width="223.1" height="1.4" fill="#231815"/>
<rect x="1597.1" y="1079" width="6.8" height="277" fill="#231815"/>
<rect x="1544.2" y="1077.8" width="107.8" height="3.2" fill="#231815"/>
<path d="M1544.2 1081.6 V1071.8 H1553.93 V1065.8 H1593.13 V1071.8 H1599.8 V1081.6z" fill="#231815"/>
<rect x="1568.11" y="1067.6" width="9.45" height="11" fill="#ffffff"/>
<rect x="1555.32" y="1074.8" width="35.58" height="3.6" fill="#ffffff"/>
<rect x="1554.76" y="1067.4" width="10.56" height="1.6" fill="#ffffff"/>
<rect x="1582.01" y="1067.4" width="9.45" height="1.6" fill="#ffffff"/>
<rect x="1546.98" y="1074.3" width="2.78" height="3" fill="#ffffff"/>
<rect x="1594.24" y="1074.3" width="3.34" height="3" fill="#ffffff"/>
<rect x="1554.76" y="1070.3" width="13.34" height="4.5" fill="#231815"/>
<rect x="1577.56" y="1070.3" width="13.9" height="4.5" fill="#231815"/>
<path d="M1635.3 1081.6 V1071.8 H1645.36 V1065.8 H1685.9 V1071.8 H1692.8 V1081.6z" fill="#231815"/>
<rect x="1660.02" y="1067.6" width="9.78" height="11" fill="#ffffff"/>
<rect x="1646.8" y="1074.8" width="36.8" height="3.6" fill="#ffffff"/>
<rect x="1646.22" y="1067.4" width="10.92" height="1.6" fill="#ffffff"/>
<rect x="1674.4" y="1067.4" width="9.78" height="1.6" fill="#ffffff"/>
<rect x="1638.17" y="1074.3" width="2.88" height="3" fill="#ffffff"/>
<rect x="1687.05" y="1074.3" width="3.45" height="3" fill="#ffffff"/>
<rect x="1646.22" y="1070.3" width="13.8" height="4.5" fill="#231815"/>
<rect x="1669.8" y="1070.3" width="14.38" height="4.5" fill="#231815"/>
<rect x="1650" y="1075.6" width="33" height="3.4" fill="#eef0ef"/>
<rect x="1715.7" y="1089.1" width="4.8" height="36.2" fill="#eef0ef" stroke="#231815" stroke-width="2.2"/>
<rect x="1715.6" y="1334.6" width="5" height="38.2" fill="#ffffff" stroke="#231815" stroke-width="2"/>
<rect x="1505.7" y="1356.5" width="185.6" height="22.8" fill="#eef0ef" stroke="#231815" stroke-width="3"/>
<rect x="1692.8" y="1364" width="3.6" height="10.4" fill="#231815"/>
<rect x="1597.1" y="1079" width="6.8" height="277.5" fill="#231815"/>
</g>
</svg>
</body>
</html>
